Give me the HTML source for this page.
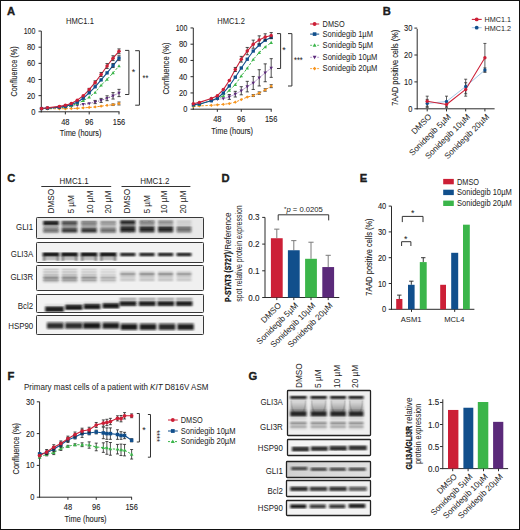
<!DOCTYPE html><html><head><meta charset="utf-8"><style>html,body{margin:0;padding:0;background:#fff;}svg{display:block;}text{font-family:"Liberation Sans", sans-serif;fill:#222222;}text.h{stroke:#222222;stroke-width:0.1px;}</style></head><body>
<svg width="520" height="530" viewBox="0 0 520 530">
<defs><filter id="b0" filterUnits="userSpaceOnUse" x="0" y="0" width="520" height="530"><feGaussianBlur stdDeviation="0.9 0.3"/></filter><filter id="b1" filterUnits="userSpaceOnUse" x="0" y="0" width="520" height="530"><feGaussianBlur stdDeviation="0.7"/></filter><filter id="b2" filterUnits="userSpaceOnUse" x="0" y="0" width="520" height="530"><feGaussianBlur stdDeviation="1.1"/></filter></defs>
<rect x="0" y="0" width="520" height="530" fill="#fff"/>
<text x="7" y="14.9" font-size="11.2" font-weight="bold" fill="#111" stroke="#111" stroke-width="0.35">A</text>
<text x="382.8" y="14.9" font-size="11.2" font-weight="bold" fill="#111" stroke="#111" stroke-width="0.35">B</text>
<text x="7.2" y="182" font-size="11.2" font-weight="bold" fill="#111" stroke="#111" stroke-width="0.35">C</text>
<text x="221.6" y="182" font-size="11.2" font-weight="bold" fill="#111" stroke="#111" stroke-width="0.35">D</text>
<text x="359.8" y="182.4" font-size="11.2" font-weight="bold" fill="#111" stroke="#111" stroke-width="0.35">E</text>
<text x="7.5" y="379.5" font-size="11.2" font-weight="bold" fill="#111" stroke="#111" stroke-width="0.35">F</text>
<text x="248.4" y="379.7" font-size="11.2" font-weight="bold" fill="#111" stroke="#111" stroke-width="0.35">G</text>
<line x1="41.3" y1="31.05" x2="41.3" y2="112.3" stroke="#2b2b2b" stroke-width="1"/>
<line x1="40.8" y1="111.8" x2="119.5" y2="111.8" stroke="#2b2b2b" stroke-width="1"/>
<line x1="38.5" y1="111.8" x2="41.3" y2="111.8" stroke="#2b2b2b" stroke-width="1"/>
<text class="h" x="35.3" y="114.8" font-size="8.5" text-anchor="end" textLength="4.16" lengthAdjust="spacingAndGlyphs">0</text>
<line x1="38.5" y1="95.65" x2="41.3" y2="95.65" stroke="#2b2b2b" stroke-width="1"/>
<text class="h" x="35.3" y="98.65" font-size="8.5" text-anchor="end" textLength="8.32" lengthAdjust="spacingAndGlyphs">20</text>
<line x1="38.5" y1="79.5" x2="41.3" y2="79.5" stroke="#2b2b2b" stroke-width="1"/>
<text class="h" x="35.3" y="82.5" font-size="8.5" text-anchor="end" textLength="8.32" lengthAdjust="spacingAndGlyphs">40</text>
<line x1="38.5" y1="63.35" x2="41.3" y2="63.35" stroke="#2b2b2b" stroke-width="1"/>
<text class="h" x="35.3" y="66.35" font-size="8.5" text-anchor="end" textLength="8.32" lengthAdjust="spacingAndGlyphs">60</text>
<line x1="38.5" y1="47.2" x2="41.3" y2="47.2" stroke="#2b2b2b" stroke-width="1"/>
<text class="h" x="35.3" y="50.2" font-size="8.5" text-anchor="end" textLength="8.32" lengthAdjust="spacingAndGlyphs">80</text>
<line x1="38.5" y1="31.05" x2="41.3" y2="31.05" stroke="#2b2b2b" stroke-width="1"/>
<text class="h" x="35.3" y="34.05" font-size="8.5" text-anchor="end" textLength="11.63" lengthAdjust="spacingAndGlyphs">100</text>
<line x1="65.35" y1="111.8" x2="65.35" y2="114.4" stroke="#2b2b2b" stroke-width="1"/>
<text class="h" x="65.35" y="124.5" font-size="8.5" text-anchor="middle" textLength="8.32" lengthAdjust="spacingAndGlyphs">48</text>
<line x1="89.19" y1="111.8" x2="89.19" y2="114.4" stroke="#2b2b2b" stroke-width="1"/>
<text class="h" x="89.19" y="124.5" font-size="8.5" text-anchor="middle" textLength="8.32" lengthAdjust="spacingAndGlyphs">96</text>
<line x1="119" y1="111.8" x2="119" y2="114.4" stroke="#2b2b2b" stroke-width="1"/>
<text class="h" x="119" y="124.5" font-size="8.5" text-anchor="middle" textLength="12.48" lengthAdjust="spacingAndGlyphs">156</text>
<text class="h" x="80.6" y="136.4" font-size="9.2" text-anchor="middle" textLength="41.5" lengthAdjust="spacingAndGlyphs">Time (hours)</text>
<text class="h" x="17" y="71.42" font-size="8.8" text-anchor="middle" textLength="50" lengthAdjust="spacingAndGlyphs" transform="rotate(-90 17 71.42)">Confluence (%)</text>
<text x="66" y="23.5" font-size="8.4" textLength="27.9" lengthAdjust="spacingAndGlyphs">HMC1.1</text>
<polyline points="41.5,108.89 47.46,108.81 59.38,108.73 65.35,108.73 71.31,108.49 77.27,108.33 83.23,107.84 89.19,107.44 95.15,106.95 101.12,106.15 107.08,105.34 113.04,104.69 119,103.48" fill="none" stroke="#f7941d" stroke-width="1" stroke-dasharray="2.4,1.6" stroke-linejoin="round"/>
<polyline points="41.5,108.57 47.46,108.41 59.38,107.76 65.35,107.2 71.31,106.31 77.27,105.18 83.23,104.37 89.19,103.56 95.15,102.03 101.12,100.41 107.08,98.23 113.04,95.81 119,92.99" fill="none" stroke="#5b2a7a" stroke-width="1" stroke-dasharray="0.9,1.4" stroke-linejoin="round"/>
<polyline points="41.5,108.57 47.46,108.33 59.38,107.44 65.35,106.87 71.31,105.74 77.27,103.48 83.23,100.74 89.19,97.1 95.15,92.5 101.12,85.23 107.08,79.42 113.04,72.88 119,66.01" fill="none" stroke="#3bb54a" stroke-width="1" stroke-dasharray="2.4,1.6" stroke-linejoin="round"/>
<polyline points="41.5,108.57 47.46,108.17 59.38,107.12 65.35,106.23 71.31,104.61 77.27,102.19 83.23,98.23 89.19,92.82 95.15,86.77 101.12,79.9 107.08,72.88 113.04,65.53 119,58.18" fill="none" stroke="#114f8c" stroke-width="1.1" stroke-linejoin="round"/>
<polyline points="41.5,108.49 47.46,107.76 59.38,106.39 65.35,105.18 71.31,103.56 77.27,100.17 83.23,95.81 89.19,89.59 95.15,82.41 101.12,74.49 107.08,66.01 113.04,58.18 119,51.32" fill="none" stroke="#cc1f36" stroke-width="1.1" stroke-linejoin="round"/>
<line x1="113.04" y1="103.89" x2="113.04" y2="105.5" stroke="#222" stroke-width="0.8"/>
<line x1="111.44" y1="103.89" x2="114.64" y2="103.89" stroke="#222" stroke-width="0.8"/>
<line x1="111.44" y1="105.5" x2="114.64" y2="105.5" stroke="#222" stroke-width="0.8"/>
<line x1="119" y1="102.03" x2="119" y2="104.94" stroke="#222" stroke-width="0.8"/>
<line x1="117.4" y1="102.03" x2="120.6" y2="102.03" stroke="#222" stroke-width="0.8"/>
<line x1="117.4" y1="104.94" x2="120.6" y2="104.94" stroke="#222" stroke-width="0.8"/>
<polygon points="41.5,107.24 43.15,108.89 41.5,110.54 39.85,108.89" fill="#f7941d"/>
<polygon points="47.46,107.16 49.11,108.81 47.46,110.46 45.81,108.81" fill="#f7941d"/>
<polygon points="59.38,107.08 61.03,108.73 59.38,110.38 57.73,108.73" fill="#f7941d"/>
<polygon points="65.35,107.08 67,108.73 65.35,110.38 63.7,108.73" fill="#f7941d"/>
<polygon points="71.31,106.84 72.96,108.49 71.31,110.14 69.66,108.49" fill="#f7941d"/>
<polygon points="77.27,106.68 78.92,108.33 77.27,109.98 75.62,108.33" fill="#f7941d"/>
<polygon points="83.23,106.19 84.88,107.84 83.23,109.49 81.58,107.84" fill="#f7941d"/>
<polygon points="89.19,105.79 90.84,107.44 89.19,109.09 87.54,107.44" fill="#f7941d"/>
<polygon points="95.15,105.3 96.8,106.95 95.15,108.61 93.5,106.95" fill="#f7941d"/>
<polygon points="101.12,104.5 102.77,106.15 101.12,107.8 99.47,106.15" fill="#f7941d"/>
<polygon points="107.08,103.69 108.73,105.34 107.08,106.99 105.43,105.34" fill="#f7941d"/>
<polygon points="113.04,103.04 114.69,104.69 113.04,106.34 111.39,104.69" fill="#f7941d"/>
<polygon points="119,101.83 120.65,103.48 119,105.13 117.35,103.48" fill="#f7941d"/>
<line x1="95.15" y1="100.41" x2="95.15" y2="103.64" stroke="#222" stroke-width="0.8"/>
<line x1="93.55" y1="100.41" x2="96.75" y2="100.41" stroke="#222" stroke-width="0.8"/>
<line x1="93.55" y1="103.64" x2="96.75" y2="103.64" stroke="#222" stroke-width="0.8"/>
<line x1="101.12" y1="98.4" x2="101.12" y2="102.43" stroke="#222" stroke-width="0.8"/>
<line x1="99.52" y1="98.4" x2="102.72" y2="98.4" stroke="#222" stroke-width="0.8"/>
<line x1="99.52" y1="102.43" x2="102.72" y2="102.43" stroke="#222" stroke-width="0.8"/>
<line x1="107.08" y1="95.81" x2="107.08" y2="100.66" stroke="#222" stroke-width="0.8"/>
<line x1="105.48" y1="95.81" x2="108.68" y2="95.81" stroke="#222" stroke-width="0.8"/>
<line x1="105.48" y1="100.66" x2="108.68" y2="100.66" stroke="#222" stroke-width="0.8"/>
<line x1="113.04" y1="92.58" x2="113.04" y2="99.04" stroke="#222" stroke-width="0.8"/>
<line x1="111.44" y1="92.58" x2="114.64" y2="92.58" stroke="#222" stroke-width="0.8"/>
<line x1="111.44" y1="99.04" x2="114.64" y2="99.04" stroke="#222" stroke-width="0.8"/>
<line x1="119" y1="89.35" x2="119" y2="96.62" stroke="#222" stroke-width="0.8"/>
<line x1="117.4" y1="89.35" x2="120.6" y2="89.35" stroke="#222" stroke-width="0.8"/>
<line x1="117.4" y1="96.62" x2="120.6" y2="96.62" stroke="#222" stroke-width="0.8"/>
<polygon points="41.5,110.38 39.77,107.25 43.23,107.25" fill="#5b2a7a"/>
<polygon points="47.46,110.22 45.73,107.09 49.19,107.09" fill="#5b2a7a"/>
<polygon points="59.38,109.58 57.65,106.44 61.12,106.44" fill="#5b2a7a"/>
<polygon points="65.35,109.01 63.61,105.88 67.08,105.88" fill="#5b2a7a"/>
<polygon points="71.31,108.12 69.58,104.99 73.04,104.99" fill="#5b2a7a"/>
<polygon points="77.27,106.99 75.54,103.86 79,103.86" fill="#5b2a7a"/>
<polygon points="83.23,106.19 81.5,103.05 84.96,103.05" fill="#5b2a7a"/>
<polygon points="89.19,105.38 87.46,102.24 90.93,102.24" fill="#5b2a7a"/>
<polygon points="95.15,103.84 93.42,100.71 96.89,100.71" fill="#5b2a7a"/>
<polygon points="101.12,102.23 99.38,99.09 102.85,99.09" fill="#5b2a7a"/>
<polygon points="107.08,100.05 105.35,96.91 108.81,96.91" fill="#5b2a7a"/>
<polygon points="113.04,97.63 111.31,94.49 114.77,94.49" fill="#5b2a7a"/>
<polygon points="119,94.8 117.27,91.67 120.73,91.67" fill="#5b2a7a"/>
<polygon points="41.5,106.75 39.77,109.89 43.23,109.89" fill="#3bb54a"/>
<polygon points="47.46,106.51 45.73,109.65 49.19,109.65" fill="#3bb54a"/>
<polygon points="59.38,105.62 57.65,108.76 61.12,108.76" fill="#3bb54a"/>
<polygon points="65.35,105.06 63.61,108.19 67.08,108.19" fill="#3bb54a"/>
<polygon points="71.31,103.93 69.58,107.06 73.04,107.06" fill="#3bb54a"/>
<polygon points="77.27,101.67 75.54,104.8 79,104.8" fill="#3bb54a"/>
<polygon points="83.23,98.92 81.5,102.06 84.96,102.06" fill="#3bb54a"/>
<polygon points="89.19,95.29 87.46,98.42 90.93,98.42" fill="#3bb54a"/>
<polygon points="95.15,90.69 93.42,93.82 96.89,93.82" fill="#3bb54a"/>
<polygon points="101.12,83.42 99.38,86.55 102.85,86.55" fill="#3bb54a"/>
<polygon points="107.08,77.6 105.35,80.74 108.81,80.74" fill="#3bb54a"/>
<polygon points="113.04,71.06 111.31,74.2 114.77,74.2" fill="#3bb54a"/>
<polygon points="119,64.2 117.27,67.33 120.73,67.33" fill="#3bb54a"/>
<line x1="113.04" y1="63.51" x2="113.04" y2="67.55" stroke="#222" stroke-width="0.8"/>
<line x1="111.44" y1="63.51" x2="114.64" y2="63.51" stroke="#222" stroke-width="0.8"/>
<line x1="111.44" y1="67.55" x2="114.64" y2="67.55" stroke="#222" stroke-width="0.8"/>
<line x1="119" y1="55.76" x2="119" y2="60.6" stroke="#222" stroke-width="0.8"/>
<line x1="117.4" y1="55.76" x2="120.6" y2="55.76" stroke="#222" stroke-width="0.8"/>
<line x1="117.4" y1="60.6" x2="120.6" y2="60.6" stroke="#222" stroke-width="0.8"/>
<rect x="39.85" y="106.92" width="3.3" height="3.3" fill="#114f8c"/>
<rect x="45.81" y="106.52" width="3.3" height="3.3" fill="#114f8c"/>
<rect x="57.73" y="105.47" width="3.3" height="3.3" fill="#114f8c"/>
<rect x="63.7" y="104.58" width="3.3" height="3.3" fill="#114f8c"/>
<rect x="69.66" y="102.96" width="3.3" height="3.3" fill="#114f8c"/>
<rect x="75.62" y="100.54" width="3.3" height="3.3" fill="#114f8c"/>
<rect x="81.58" y="96.58" width="3.3" height="3.3" fill="#114f8c"/>
<rect x="87.54" y="91.17" width="3.3" height="3.3" fill="#114f8c"/>
<rect x="93.5" y="85.12" width="3.3" height="3.3" fill="#114f8c"/>
<rect x="99.47" y="78.25" width="3.3" height="3.3" fill="#114f8c"/>
<rect x="105.43" y="71.23" width="3.3" height="3.3" fill="#114f8c"/>
<rect x="111.39" y="63.88" width="3.3" height="3.3" fill="#114f8c"/>
<rect x="117.35" y="56.53" width="3.3" height="3.3" fill="#114f8c"/>
<line x1="89.19" y1="88.38" x2="89.19" y2="90.81" stroke="#222" stroke-width="0.8"/>
<line x1="87.59" y1="88.38" x2="90.79" y2="88.38" stroke="#222" stroke-width="0.8"/>
<line x1="87.59" y1="90.81" x2="90.79" y2="90.81" stroke="#222" stroke-width="0.8"/>
<line x1="95.15" y1="80.79" x2="95.15" y2="84.02" stroke="#222" stroke-width="0.8"/>
<line x1="93.55" y1="80.79" x2="96.75" y2="80.79" stroke="#222" stroke-width="0.8"/>
<line x1="93.55" y1="84.02" x2="96.75" y2="84.02" stroke="#222" stroke-width="0.8"/>
<line x1="101.12" y1="72.47" x2="101.12" y2="76.51" stroke="#222" stroke-width="0.8"/>
<line x1="99.52" y1="72.47" x2="102.72" y2="72.47" stroke="#222" stroke-width="0.8"/>
<line x1="99.52" y1="76.51" x2="102.72" y2="76.51" stroke="#222" stroke-width="0.8"/>
<line x1="107.08" y1="63.59" x2="107.08" y2="68.44" stroke="#222" stroke-width="0.8"/>
<line x1="105.48" y1="63.59" x2="108.68" y2="63.59" stroke="#222" stroke-width="0.8"/>
<line x1="105.48" y1="68.44" x2="108.68" y2="68.44" stroke="#222" stroke-width="0.8"/>
<line x1="113.04" y1="55.76" x2="113.04" y2="60.6" stroke="#222" stroke-width="0.8"/>
<line x1="111.44" y1="55.76" x2="114.64" y2="55.76" stroke="#222" stroke-width="0.8"/>
<line x1="111.44" y1="60.6" x2="114.64" y2="60.6" stroke="#222" stroke-width="0.8"/>
<line x1="119" y1="48.9" x2="119" y2="53.74" stroke="#222" stroke-width="0.8"/>
<line x1="117.4" y1="48.9" x2="120.6" y2="48.9" stroke="#222" stroke-width="0.8"/>
<line x1="117.4" y1="53.74" x2="120.6" y2="53.74" stroke="#222" stroke-width="0.8"/>
<circle cx="41.5" cy="108.49" r="1.75" fill="#cc1f36"/>
<circle cx="47.46" cy="107.76" r="1.75" fill="#cc1f36"/>
<circle cx="59.38" cy="106.39" r="1.75" fill="#cc1f36"/>
<circle cx="65.35" cy="105.18" r="1.75" fill="#cc1f36"/>
<circle cx="71.31" cy="103.56" r="1.75" fill="#cc1f36"/>
<circle cx="77.27" cy="100.17" r="1.75" fill="#cc1f36"/>
<circle cx="83.23" cy="95.81" r="1.75" fill="#cc1f36"/>
<circle cx="89.19" cy="89.59" r="1.75" fill="#cc1f36"/>
<circle cx="95.15" cy="82.41" r="1.75" fill="#cc1f36"/>
<circle cx="101.12" cy="74.49" r="1.75" fill="#cc1f36"/>
<circle cx="107.08" cy="66.01" r="1.75" fill="#cc1f36"/>
<circle cx="113.04" cy="58.18" r="1.75" fill="#cc1f36"/>
<circle cx="119" cy="51.32" r="1.75" fill="#cc1f36"/>
<polyline points="125.1,50.4 128.9,50.4 128.9,94.5 125.1,94.5" fill="none" stroke="#333" stroke-width="1"/>
<polyline points="135.2,50.7 139.4,50.7 139.4,105.2 135.2,105.2" fill="none" stroke="#333" stroke-width="1"/>
<text x="133.5" y="75.05" font-size="9" text-anchor="middle">*</text>
<text x="145.4" y="81.05" font-size="9" text-anchor="middle" textLength="5.8" lengthAdjust="spacingAndGlyphs">**</text>
<line x1="193.3" y1="27.95" x2="193.3" y2="109.7" stroke="#2b2b2b" stroke-width="1"/>
<line x1="192.8" y1="109.2" x2="271.7" y2="109.2" stroke="#2b2b2b" stroke-width="1"/>
<line x1="190.5" y1="109.2" x2="193.3" y2="109.2" stroke="#2b2b2b" stroke-width="1"/>
<text class="h" x="187.3" y="112.2" font-size="8.5" text-anchor="end" textLength="4.16" lengthAdjust="spacingAndGlyphs">0</text>
<line x1="190.5" y1="92.95" x2="193.3" y2="92.95" stroke="#2b2b2b" stroke-width="1"/>
<text class="h" x="187.3" y="95.95" font-size="8.5" text-anchor="end" textLength="8.32" lengthAdjust="spacingAndGlyphs">20</text>
<line x1="190.5" y1="76.7" x2="193.3" y2="76.7" stroke="#2b2b2b" stroke-width="1"/>
<text class="h" x="187.3" y="79.7" font-size="8.5" text-anchor="end" textLength="8.32" lengthAdjust="spacingAndGlyphs">40</text>
<line x1="190.5" y1="60.45" x2="193.3" y2="60.45" stroke="#2b2b2b" stroke-width="1"/>
<text class="h" x="187.3" y="63.45" font-size="8.5" text-anchor="end" textLength="8.32" lengthAdjust="spacingAndGlyphs">60</text>
<line x1="190.5" y1="44.2" x2="193.3" y2="44.2" stroke="#2b2b2b" stroke-width="1"/>
<text class="h" x="187.3" y="47.2" font-size="8.5" text-anchor="end" textLength="8.32" lengthAdjust="spacingAndGlyphs">80</text>
<line x1="190.5" y1="27.95" x2="193.3" y2="27.95" stroke="#2b2b2b" stroke-width="1"/>
<text class="h" x="187.3" y="30.95" font-size="8.5" text-anchor="end" textLength="11.63" lengthAdjust="spacingAndGlyphs">100</text>
<line x1="217.34" y1="109.2" x2="217.34" y2="111.8" stroke="#2b2b2b" stroke-width="1"/>
<text class="h" x="217.34" y="121.9" font-size="8.5" text-anchor="middle" textLength="8.32" lengthAdjust="spacingAndGlyphs">48</text>
<line x1="241.28" y1="109.2" x2="241.28" y2="111.8" stroke="#2b2b2b" stroke-width="1"/>
<text class="h" x="241.28" y="121.9" font-size="8.5" text-anchor="middle" textLength="8.32" lengthAdjust="spacingAndGlyphs">96</text>
<line x1="271.2" y1="109.2" x2="271.2" y2="111.8" stroke="#2b2b2b" stroke-width="1"/>
<text class="h" x="271.2" y="121.9" font-size="8.5" text-anchor="middle" textLength="12.48" lengthAdjust="spacingAndGlyphs">156</text>
<text class="h" x="232.2" y="134.3" font-size="9.2" text-anchor="middle" textLength="41.7" lengthAdjust="spacingAndGlyphs">Time (hours)</text>
<text class="h" x="168.9" y="68.58" font-size="8.8" text-anchor="middle" textLength="52" lengthAdjust="spacingAndGlyphs" transform="rotate(-90 168.9 68.58)">Confluence (%)</text>
<text x="217.3" y="23.8" font-size="8.4" textLength="27.6" lengthAdjust="spacingAndGlyphs">HMC1.2</text>
<polyline points="193.4,106.44 199.38,105.95 211.35,105.3 217.34,104.81 223.32,104.33 229.31,103.59 235.29,102.21 241.28,99.53 247.26,97.09 253.24,95.55 259.23,93.11 265.21,89.94 271.2,86.21" fill="none" stroke="#f7941d" stroke-width="1" stroke-dasharray="2.4,1.6" stroke-linejoin="round"/>
<polyline points="193.4,105.14 199.38,104.33 211.35,100.75 217.34,99.29 223.32,98.64 229.31,96.93 235.29,94.17 241.28,90.76 247.26,86.61 253.24,82.96 259.23,77.84 265.21,72.8 271.2,68.01" fill="none" stroke="#b08cc8" stroke-width="0.7" stroke-linejoin="round"/>
<polyline points="193.4,105.14 199.38,104.65 211.35,100.26 217.34,98.64 223.32,95.79 229.31,90.43 235.29,84.58 241.28,75.97 247.26,68.25 253.24,59.48 259.23,52.57 265.21,47.04 271.2,42.58" fill="none" stroke="#3bb54a" stroke-width="1" stroke-dasharray="2.4,1.6" stroke-linejoin="round"/>
<polyline points="193.4,104.73 199.38,103.92 211.35,100.75 217.34,98.23 223.32,93.03 229.31,85.96 235.29,77.19 241.28,68.01 247.26,59.23 253.24,51.03 259.23,45.01 265.21,40.22 271.2,37.54" fill="none" stroke="#114f8c" stroke-width="1.1" stroke-linejoin="round"/>
<polyline points="193.4,103.84 199.38,102.38 211.35,98.48 217.34,95.71 223.32,89.62 229.31,80.44 235.29,69.47 241.28,59.23 247.26,51.11 253.24,44.2 259.23,39.89 265.21,37.05 271.2,35.43" fill="none" stroke="#cc1f36" stroke-width="1.1" stroke-linejoin="round"/>
<line x1="253.24" y1="94.58" x2="253.24" y2="96.52" stroke="#222" stroke-width="0.8"/>
<line x1="251.64" y1="94.58" x2="254.84" y2="94.58" stroke="#222" stroke-width="0.8"/>
<line x1="251.64" y1="96.52" x2="254.84" y2="96.52" stroke="#222" stroke-width="0.8"/>
<line x1="259.23" y1="91.89" x2="259.23" y2="94.33" stroke="#222" stroke-width="0.8"/>
<line x1="257.63" y1="91.89" x2="260.83" y2="91.89" stroke="#222" stroke-width="0.8"/>
<line x1="257.63" y1="94.33" x2="260.83" y2="94.33" stroke="#222" stroke-width="0.8"/>
<line x1="265.21" y1="88.73" x2="265.21" y2="91.16" stroke="#222" stroke-width="0.8"/>
<line x1="263.61" y1="88.73" x2="266.81" y2="88.73" stroke="#222" stroke-width="0.8"/>
<line x1="263.61" y1="91.16" x2="266.81" y2="91.16" stroke="#222" stroke-width="0.8"/>
<line x1="271.2" y1="84.74" x2="271.2" y2="87.67" stroke="#222" stroke-width="0.8"/>
<line x1="269.6" y1="84.74" x2="272.8" y2="84.74" stroke="#222" stroke-width="0.8"/>
<line x1="269.6" y1="87.67" x2="272.8" y2="87.67" stroke="#222" stroke-width="0.8"/>
<polygon points="193.4,104.79 195.05,106.44 193.4,108.09 191.75,106.44" fill="#f7941d"/>
<polygon points="199.38,104.3 201.03,105.95 199.38,107.6 197.73,105.95" fill="#f7941d"/>
<polygon points="211.35,103.65 213,105.3 211.35,106.95 209.7,105.3" fill="#f7941d"/>
<polygon points="217.34,103.16 218.99,104.81 217.34,106.46 215.69,104.81" fill="#f7941d"/>
<polygon points="223.32,102.67 224.97,104.33 223.32,105.98 221.67,104.33" fill="#f7941d"/>
<polygon points="229.31,101.94 230.96,103.59 229.31,105.24 227.66,103.59" fill="#f7941d"/>
<polygon points="235.29,100.56 236.94,102.21 235.29,103.86 233.64,102.21" fill="#f7941d"/>
<polygon points="241.28,97.88 242.93,99.53 241.28,101.18 239.63,99.53" fill="#f7941d"/>
<polygon points="247.26,95.44 248.91,97.09 247.26,98.74 245.61,97.09" fill="#f7941d"/>
<polygon points="253.24,93.9 254.89,95.55 253.24,97.2 251.59,95.55" fill="#f7941d"/>
<polygon points="259.23,91.46 260.88,93.11 259.23,94.76 257.58,93.11" fill="#f7941d"/>
<polygon points="265.21,88.29 266.86,89.94 265.21,91.59 263.56,89.94" fill="#f7941d"/>
<polygon points="271.2,84.56 272.85,86.21 271.2,87.86 269.55,86.21" fill="#f7941d"/>
<line x1="229.31" y1="94.49" x2="229.31" y2="99.37" stroke="#222" stroke-width="0.8"/>
<line x1="227.71" y1="94.49" x2="230.91" y2="94.49" stroke="#222" stroke-width="0.8"/>
<line x1="227.71" y1="99.37" x2="230.91" y2="99.37" stroke="#222" stroke-width="0.8"/>
<line x1="235.29" y1="91.33" x2="235.29" y2="97.01" stroke="#222" stroke-width="0.8"/>
<line x1="233.69" y1="91.33" x2="236.89" y2="91.33" stroke="#222" stroke-width="0.8"/>
<line x1="233.69" y1="97.01" x2="236.89" y2="97.01" stroke="#222" stroke-width="0.8"/>
<line x1="241.28" y1="86.69" x2="241.28" y2="94.82" stroke="#222" stroke-width="0.8"/>
<line x1="239.68" y1="86.69" x2="242.88" y2="86.69" stroke="#222" stroke-width="0.8"/>
<line x1="239.68" y1="94.82" x2="242.88" y2="94.82" stroke="#222" stroke-width="0.8"/>
<line x1="247.26" y1="81.33" x2="247.26" y2="91.89" stroke="#222" stroke-width="0.8"/>
<line x1="245.66" y1="81.33" x2="248.86" y2="81.33" stroke="#222" stroke-width="0.8"/>
<line x1="245.66" y1="91.89" x2="248.86" y2="91.89" stroke="#222" stroke-width="0.8"/>
<line x1="253.24" y1="76.46" x2="253.24" y2="89.46" stroke="#222" stroke-width="0.8"/>
<line x1="251.64" y1="76.46" x2="254.84" y2="76.46" stroke="#222" stroke-width="0.8"/>
<line x1="251.64" y1="89.46" x2="254.84" y2="89.46" stroke="#222" stroke-width="0.8"/>
<line x1="259.23" y1="69.71" x2="259.23" y2="85.96" stroke="#222" stroke-width="0.8"/>
<line x1="257.63" y1="69.71" x2="260.83" y2="69.71" stroke="#222" stroke-width="0.8"/>
<line x1="257.63" y1="85.96" x2="260.83" y2="85.96" stroke="#222" stroke-width="0.8"/>
<line x1="265.21" y1="63.86" x2="265.21" y2="81.74" stroke="#222" stroke-width="0.8"/>
<line x1="263.61" y1="63.86" x2="266.81" y2="63.86" stroke="#222" stroke-width="0.8"/>
<line x1="263.61" y1="81.74" x2="266.81" y2="81.74" stroke="#222" stroke-width="0.8"/>
<line x1="271.2" y1="58.66" x2="271.2" y2="77.35" stroke="#222" stroke-width="0.8"/>
<line x1="269.6" y1="58.66" x2="272.8" y2="58.66" stroke="#222" stroke-width="0.8"/>
<line x1="269.6" y1="77.35" x2="272.8" y2="77.35" stroke="#222" stroke-width="0.8"/>
<polygon points="193.4,106.95 191.67,103.82 195.13,103.82" fill="#5b2a7a"/>
<polygon points="199.38,106.14 197.65,103.01 201.12,103.01" fill="#5b2a7a"/>
<polygon points="211.35,102.56 209.62,99.43 213.09,99.43" fill="#5b2a7a"/>
<polygon points="217.34,101.1 215.61,97.97 219.07,97.97" fill="#5b2a7a"/>
<polygon points="223.32,100.45 221.59,97.32 225.05,97.32" fill="#5b2a7a"/>
<polygon points="229.31,98.75 227.57,95.61 231.04,95.61" fill="#5b2a7a"/>
<polygon points="235.29,95.98 233.56,92.85 237.02,92.85" fill="#5b2a7a"/>
<polygon points="241.28,92.57 239.54,89.44 243.01,89.44" fill="#5b2a7a"/>
<polygon points="247.26,88.43 245.53,85.29 248.99,85.29" fill="#5b2a7a"/>
<polygon points="253.24,84.77 251.51,81.64 254.98,81.64" fill="#5b2a7a"/>
<polygon points="259.23,79.65 257.5,76.52 260.96,76.52" fill="#5b2a7a"/>
<polygon points="265.21,74.62 263.48,71.48 266.95,71.48" fill="#5b2a7a"/>
<polygon points="271.2,69.82 269.46,66.69 272.93,66.69" fill="#5b2a7a"/>
<polygon points="193.4,103.32 191.67,106.46 195.13,106.46" fill="#3bb54a"/>
<polygon points="199.38,102.84 197.65,105.97 201.12,105.97" fill="#3bb54a"/>
<polygon points="211.35,98.45 209.62,101.58 213.09,101.58" fill="#3bb54a"/>
<polygon points="217.34,96.82 215.61,99.96 219.07,99.96" fill="#3bb54a"/>
<polygon points="223.32,93.98 221.59,97.11 225.05,97.11" fill="#3bb54a"/>
<polygon points="229.31,88.62 227.57,91.75 231.04,91.75" fill="#3bb54a"/>
<polygon points="235.29,82.77 233.56,85.9 237.02,85.9" fill="#3bb54a"/>
<polygon points="241.28,74.15 239.54,77.29 243.01,77.29" fill="#3bb54a"/>
<polygon points="247.26,66.44 245.53,69.57 248.99,69.57" fill="#3bb54a"/>
<polygon points="253.24,57.66 251.51,60.8 254.98,60.8" fill="#3bb54a"/>
<polygon points="259.23,50.75 257.5,53.89 260.96,53.89" fill="#3bb54a"/>
<polygon points="265.21,45.23 263.48,48.36 266.95,48.36" fill="#3bb54a"/>
<polygon points="271.2,40.76 269.46,43.9 272.93,43.9" fill="#3bb54a"/>
<rect x="191.75" y="103.08" width="3.3" height="3.3" fill="#114f8c"/>
<rect x="197.73" y="102.27" width="3.3" height="3.3" fill="#114f8c"/>
<rect x="209.7" y="99.1" width="3.3" height="3.3" fill="#114f8c"/>
<rect x="215.69" y="96.58" width="3.3" height="3.3" fill="#114f8c"/>
<rect x="221.67" y="91.38" width="3.3" height="3.3" fill="#114f8c"/>
<rect x="227.66" y="84.31" width="3.3" height="3.3" fill="#114f8c"/>
<rect x="233.64" y="75.54" width="3.3" height="3.3" fill="#114f8c"/>
<rect x="239.63" y="66.36" width="3.3" height="3.3" fill="#114f8c"/>
<rect x="245.61" y="57.58" width="3.3" height="3.3" fill="#114f8c"/>
<rect x="251.59" y="49.38" width="3.3" height="3.3" fill="#114f8c"/>
<rect x="257.58" y="43.36" width="3.3" height="3.3" fill="#114f8c"/>
<rect x="263.56" y="38.57" width="3.3" height="3.3" fill="#114f8c"/>
<rect x="269.55" y="35.89" width="3.3" height="3.3" fill="#114f8c"/>
<line x1="235.29" y1="67.44" x2="235.29" y2="71.5" stroke="#222" stroke-width="0.8"/>
<line x1="233.69" y1="67.44" x2="236.89" y2="67.44" stroke="#222" stroke-width="0.8"/>
<line x1="233.69" y1="71.5" x2="236.89" y2="71.5" stroke="#222" stroke-width="0.8"/>
<line x1="241.28" y1="56.39" x2="241.28" y2="62.08" stroke="#222" stroke-width="0.8"/>
<line x1="239.68" y1="56.39" x2="242.88" y2="56.39" stroke="#222" stroke-width="0.8"/>
<line x1="239.68" y1="62.08" x2="242.88" y2="62.08" stroke="#222" stroke-width="0.8"/>
<line x1="247.26" y1="47.45" x2="247.26" y2="54.76" stroke="#222" stroke-width="0.8"/>
<line x1="245.66" y1="47.45" x2="248.86" y2="47.45" stroke="#222" stroke-width="0.8"/>
<line x1="245.66" y1="54.76" x2="248.86" y2="54.76" stroke="#222" stroke-width="0.8"/>
<line x1="253.24" y1="40.14" x2="253.24" y2="48.26" stroke="#222" stroke-width="0.8"/>
<line x1="251.64" y1="40.14" x2="254.84" y2="40.14" stroke="#222" stroke-width="0.8"/>
<line x1="251.64" y1="48.26" x2="254.84" y2="48.26" stroke="#222" stroke-width="0.8"/>
<line x1="259.23" y1="35.83" x2="259.23" y2="43.96" stroke="#222" stroke-width="0.8"/>
<line x1="257.63" y1="35.83" x2="260.83" y2="35.83" stroke="#222" stroke-width="0.8"/>
<line x1="257.63" y1="43.96" x2="260.83" y2="43.96" stroke="#222" stroke-width="0.8"/>
<line x1="265.21" y1="33.8" x2="265.21" y2="40.3" stroke="#222" stroke-width="0.8"/>
<line x1="263.61" y1="33.8" x2="266.81" y2="33.8" stroke="#222" stroke-width="0.8"/>
<line x1="263.61" y1="40.3" x2="266.81" y2="40.3" stroke="#222" stroke-width="0.8"/>
<line x1="271.2" y1="32.58" x2="271.2" y2="38.27" stroke="#222" stroke-width="0.8"/>
<line x1="269.6" y1="32.58" x2="272.8" y2="32.58" stroke="#222" stroke-width="0.8"/>
<line x1="269.6" y1="38.27" x2="272.8" y2="38.27" stroke="#222" stroke-width="0.8"/>
<circle cx="193.4" cy="103.84" r="1.75" fill="#cc1f36"/>
<circle cx="199.38" cy="102.38" r="1.75" fill="#cc1f36"/>
<circle cx="211.35" cy="98.48" r="1.75" fill="#cc1f36"/>
<circle cx="217.34" cy="95.71" r="1.75" fill="#cc1f36"/>
<circle cx="223.32" cy="89.62" r="1.75" fill="#cc1f36"/>
<circle cx="229.31" cy="80.44" r="1.75" fill="#cc1f36"/>
<circle cx="235.29" cy="69.47" r="1.75" fill="#cc1f36"/>
<circle cx="241.28" cy="59.23" r="1.75" fill="#cc1f36"/>
<circle cx="247.26" cy="51.11" r="1.75" fill="#cc1f36"/>
<circle cx="253.24" cy="44.2" r="1.75" fill="#cc1f36"/>
<circle cx="259.23" cy="39.89" r="1.75" fill="#cc1f36"/>
<circle cx="265.21" cy="37.05" r="1.75" fill="#cc1f36"/>
<circle cx="271.2" cy="35.43" r="1.75" fill="#cc1f36"/>
<polyline points="277,33.6 280.6,33.6 280.6,68.5 277,68.5" fill="none" stroke="#333" stroke-width="1"/>
<polyline points="288,33.6 291.9,33.6 291.9,86 288,86" fill="none" stroke="#333" stroke-width="1"/>
<text x="284" y="53.35" font-size="9" text-anchor="middle">*</text>
<text x="298.4" y="63.05" font-size="9" text-anchor="middle" textLength="8.8" lengthAdjust="spacingAndGlyphs">***</text>
<line x1="310.1" y1="24" x2="319.2" y2="24" stroke="#cc1f36" stroke-width="1"/>
<circle cx="314.6" cy="24" r="1.9" fill="#cc1f36"/>
<text x="322.6" y="26.85" font-size="8.5" textLength="22" lengthAdjust="spacingAndGlyphs">DMSO</text>
<line x1="310.1" y1="34.1" x2="319.2" y2="34.1" stroke="#114f8c" stroke-width="1"/>
<rect x="312.8" y="32.3" width="3.6" height="3.6" fill="#114f8c"/>
<text x="322.6" y="36.95" font-size="8.5" textLength="50.4" lengthAdjust="spacingAndGlyphs">Sonidegib 1µM</text>
<line x1="310.1" y1="45.3" x2="319.2" y2="45.3" stroke="#3bb54a" stroke-width="0.8" stroke-dasharray="2,1.5"/>
<polygon points="314.6,43.32 312.71,46.74 316.49,46.74" fill="#3bb54a"/>
<text x="322.6" y="48.15" font-size="8.5" textLength="50.5" lengthAdjust="spacingAndGlyphs">Sonidegib 5µM</text>
<line x1="310.1" y1="57.3" x2="319.2" y2="57.3" stroke="#b08cc8" stroke-width="0.8" stroke-dasharray="2,1.5"/>
<polygon points="314.6,59.28 312.71,55.86 316.49,55.86" fill="#5b2a7a"/>
<text x="322.6" y="60.15" font-size="8.5" textLength="54.7" lengthAdjust="spacingAndGlyphs">Sonidegib 10µM</text>
<line x1="310.1" y1="68.6" x2="319.2" y2="68.6" stroke="#f7941d" stroke-width="0.8" stroke-dasharray="2,1.5"/>
<polygon points="314.6,66.8 316.4,68.6 314.6,70.4 312.8,68.6" fill="#f7941d"/>
<text x="322.6" y="71.45" font-size="8.5" textLength="54.7" lengthAdjust="spacingAndGlyphs">Sonidegib 20µM</text>
<line x1="417.2" y1="28.9" x2="417.2" y2="109.3" stroke="#2b2b2b" stroke-width="1"/>
<line x1="416.7" y1="108.8" x2="494.6" y2="108.8" stroke="#2b2b2b" stroke-width="1"/>
<line x1="414.4" y1="108.8" x2="417.2" y2="108.8" stroke="#2b2b2b" stroke-width="1"/>
<text class="h" x="412.4" y="111.8" font-size="8.5" text-anchor="end" textLength="4.16" lengthAdjust="spacingAndGlyphs">0</text>
<line x1="414.4" y1="81.9" x2="417.2" y2="81.9" stroke="#2b2b2b" stroke-width="1"/>
<text class="h" x="412.4" y="84.9" font-size="8.5" text-anchor="end" textLength="8.32" lengthAdjust="spacingAndGlyphs">10</text>
<line x1="414.4" y1="55" x2="417.2" y2="55" stroke="#2b2b2b" stroke-width="1"/>
<text class="h" x="412.4" y="58" font-size="8.5" text-anchor="end" textLength="8.32" lengthAdjust="spacingAndGlyphs">20</text>
<line x1="414.4" y1="28.1" x2="417.2" y2="28.1" stroke="#2b2b2b" stroke-width="1"/>
<text class="h" x="412.4" y="31.1" font-size="8.5" text-anchor="end" textLength="8.32" lengthAdjust="spacingAndGlyphs">30</text>
<line x1="427.2" y1="108.8" x2="427.2" y2="111.4" stroke="#2b2b2b" stroke-width="1"/>
<line x1="446.5" y1="108.8" x2="446.5" y2="111.4" stroke="#2b2b2b" stroke-width="1"/>
<line x1="465.7" y1="108.8" x2="465.7" y2="111.4" stroke="#2b2b2b" stroke-width="1"/>
<line x1="484.9" y1="108.8" x2="484.9" y2="111.4" stroke="#2b2b2b" stroke-width="1"/>
<text class="h" x="397.8" y="67.8" font-size="8.8" text-anchor="middle" textLength="75.8" lengthAdjust="spacingAndGlyphs" transform="rotate(-90 397.8 67.8)">7AAD positive cells (%)</text>
<polyline points="427.2,103.42 446.5,101.54 465.7,86.47 484.9,70.06" fill="none" stroke="#8ab8e0" stroke-width="0.8" stroke-linejoin="round"/>
<polyline points="427.2,101.27 446.5,104.5 465.7,89.43 484.9,57.69" fill="none" stroke="#cc1f36" stroke-width="1.05" stroke-linejoin="round"/>
<line x1="427.2" y1="96.16" x2="427.2" y2="106.38" stroke="#333" stroke-width="0.8"/>
<line x1="425.7" y1="96.16" x2="428.7" y2="96.16" stroke="#333" stroke-width="0.8"/>
<line x1="425.7" y1="106.38" x2="428.7" y2="106.38" stroke="#333" stroke-width="0.8"/>
<line x1="446.5" y1="101.81" x2="446.5" y2="107.19" stroke="#333" stroke-width="0.8"/>
<line x1="445" y1="101.81" x2="448" y2="101.81" stroke="#333" stroke-width="0.8"/>
<line x1="445" y1="107.19" x2="448" y2="107.19" stroke="#333" stroke-width="0.8"/>
<line x1="465.7" y1="82.71" x2="465.7" y2="96.16" stroke="#333" stroke-width="0.8"/>
<line x1="464.2" y1="82.71" x2="467.2" y2="82.71" stroke="#333" stroke-width="0.8"/>
<line x1="464.2" y1="96.16" x2="467.2" y2="96.16" stroke="#333" stroke-width="0.8"/>
<line x1="484.9" y1="43.43" x2="484.9" y2="71.95" stroke="#333" stroke-width="0.8"/>
<line x1="483.4" y1="43.43" x2="486.4" y2="43.43" stroke="#333" stroke-width="0.8"/>
<line x1="483.4" y1="71.95" x2="486.4" y2="71.95" stroke="#333" stroke-width="0.8"/>
<line x1="427.2" y1="99.38" x2="427.2" y2="107.45" stroke="#333" stroke-width="0.8"/>
<line x1="425.7" y1="99.38" x2="428.7" y2="99.38" stroke="#333" stroke-width="0.8"/>
<line x1="425.7" y1="107.45" x2="428.7" y2="107.45" stroke="#333" stroke-width="0.8"/>
<line x1="446.5" y1="96.16" x2="446.5" y2="106.92" stroke="#333" stroke-width="0.8"/>
<line x1="445" y1="96.16" x2="448" y2="96.16" stroke="#333" stroke-width="0.8"/>
<line x1="445" y1="106.92" x2="448" y2="106.92" stroke="#333" stroke-width="0.8"/>
<line x1="465.7" y1="79.21" x2="465.7" y2="93.74" stroke="#333" stroke-width="0.8"/>
<line x1="464.2" y1="79.21" x2="467.2" y2="79.21" stroke="#333" stroke-width="0.8"/>
<line x1="464.2" y1="93.74" x2="467.2" y2="93.74" stroke="#333" stroke-width="0.8"/>
<line x1="484.9" y1="67.91" x2="484.9" y2="72.22" stroke="#333" stroke-width="0.8"/>
<line x1="483.4" y1="67.91" x2="486.4" y2="67.91" stroke="#333" stroke-width="0.8"/>
<line x1="483.4" y1="72.22" x2="486.4" y2="72.22" stroke="#333" stroke-width="0.8"/>
<circle cx="427.2" cy="103.42" r="1.7" fill="#114f8c"/>
<circle cx="446.5" cy="101.54" r="1.7" fill="#114f8c"/>
<circle cx="465.7" cy="86.47" r="1.7" fill="#114f8c"/>
<circle cx="484.9" cy="70.06" r="1.7" fill="#114f8c"/>
<circle cx="427.2" cy="101.27" r="1.7" fill="#cc1f36"/>
<circle cx="446.5" cy="104.5" r="1.7" fill="#cc1f36"/>
<circle cx="465.7" cy="89.43" r="1.7" fill="#cc1f36"/>
<circle cx="484.9" cy="57.69" r="1.7" fill="#cc1f36"/>
<line x1="471.8" y1="19.4" x2="481.7" y2="19.4" stroke="#cc1f36" stroke-width="1.1"/>
<circle cx="476.7" cy="19.4" r="1.9" fill="#cc1f36"/>
<text x="484.5" y="22.2" font-size="7.6" textLength="26.5" lengthAdjust="spacingAndGlyphs">HMC1.1</text>
<line x1="471.8" y1="27.7" x2="481.7" y2="27.7" stroke="#8ab8e0" stroke-width="0.8"/>
<circle cx="476.7" cy="27.7" r="1.9" fill="#114f8c"/>
<text x="484.5" y="30.5" font-size="7.6" textLength="26.5" lengthAdjust="spacingAndGlyphs">HMC1.2</text>
<text x="432.1" y="117.3" font-size="8.3" text-anchor="end" textLength="24.65" lengthAdjust="spacingAndGlyphs" transform="rotate(-45 432.1 117.3)">DMSO</text>
<text x="451.4" y="117.3" font-size="8.3" text-anchor="end" textLength="54.99" lengthAdjust="spacingAndGlyphs" transform="rotate(-45 451.4 117.3)">Sonidegib 5µM</text>
<text x="470.6" y="117.3" font-size="8.3" text-anchor="end" textLength="59.56" lengthAdjust="spacingAndGlyphs" transform="rotate(-45 470.6 117.3)">Sonidegib 10µM</text>
<text x="489.8" y="117.3" font-size="8.3" text-anchor="end" textLength="59.56" lengthAdjust="spacingAndGlyphs" transform="rotate(-45 489.8 117.3)">Sonidegib 20µM</text>
<text x="59.6" y="183.8" font-size="8.5" textLength="29" lengthAdjust="spacingAndGlyphs">HMC1.1</text>
<text x="140.2" y="183.8" font-size="8.5" textLength="29.2" lengthAdjust="spacingAndGlyphs">HMC1.2</text>
<line x1="41.3" y1="186.5" x2="111.2" y2="186.5" stroke="#333" stroke-width="1"/>
<line x1="121.5" y1="186.5" x2="190.4" y2="186.5" stroke="#333" stroke-width="1"/>
<text x="53.85" y="213.6" font-size="8.3" textLength="24.65" lengthAdjust="spacingAndGlyphs" transform="rotate(-90 53.85 213.6)">DMSO</text>
<text x="73.85" y="213.6" font-size="8.3" textLength="18.43" lengthAdjust="spacingAndGlyphs" transform="rotate(-90 73.85 213.6)">5 µM</text>
<text x="93.25" y="213.6" font-size="8.3" textLength="23" lengthAdjust="spacingAndGlyphs" transform="rotate(-90 93.25 213.6)">10 µM</text>
<text x="110.55" y="213.6" font-size="8.3" textLength="23" lengthAdjust="spacingAndGlyphs" transform="rotate(-90 110.55 213.6)">20 µM</text>
<text x="130.15" y="213.6" font-size="8.3" textLength="24.65" lengthAdjust="spacingAndGlyphs" transform="rotate(-90 130.15 213.6)">DMSO</text>
<text x="149.75" y="213.6" font-size="8.3" textLength="18.43" lengthAdjust="spacingAndGlyphs" transform="rotate(-90 149.75 213.6)">5 µM</text>
<text x="167.05" y="213.6" font-size="8.3" textLength="23" lengthAdjust="spacingAndGlyphs" transform="rotate(-90 167.05 213.6)">10 µM</text>
<text x="185.55" y="213.6" font-size="8.3" textLength="23" lengthAdjust="spacingAndGlyphs" transform="rotate(-90 185.55 213.6)">20 µM</text>
<rect x="36.5" y="217.5" width="167" height="21" fill="#e9e9e9" stroke="#383838" rx="0.8" stroke-width="1"/>
<linearGradient id="g1" gradientUnits="userSpaceOnUse" x1="0" y1="220" x2="0" y2="235.4"><stop offset="0" stop-color="#101010" stop-opacity="0"/><stop offset="0.1" stop-color="#101010" stop-opacity="0.76"/><stop offset="0.21" stop-color="#101010" stop-opacity="0.95"/><stop offset="0.29" stop-color="#101010" stop-opacity="0.76"/><stop offset="0.38" stop-color="#101010" stop-opacity="0.3"/><stop offset="0.45" stop-color="#101010" stop-opacity="0.3"/><stop offset="0.57" stop-color="#101010" stop-opacity="0.47"/><stop offset="0.69" stop-color="#101010" stop-opacity="0.55"/><stop offset="0.77" stop-color="#101010" stop-opacity="0.44"/><stop offset="0.9" stop-color="#101010" stop-opacity="0.05"/><stop offset="1" stop-color="#101010" stop-opacity="0"/></linearGradient>
<rect x="43.2" y="220" width="15.6" height="15.4" fill="url(#g1)" filter="url(#b0)"/>
<linearGradient id="g2" gradientUnits="userSpaceOnUse" x1="0" y1="220" x2="0" y2="235.4"><stop offset="0" stop-color="#101010" stop-opacity="0"/><stop offset="0.1" stop-color="#101010" stop-opacity="0.58"/><stop offset="0.21" stop-color="#101010" stop-opacity="0.72"/><stop offset="0.29" stop-color="#101010" stop-opacity="0.58"/><stop offset="0.38" stop-color="#101010" stop-opacity="0.35"/><stop offset="0.45" stop-color="#101010" stop-opacity="0.35"/><stop offset="0.57" stop-color="#101010" stop-opacity="0.68"/><stop offset="0.69" stop-color="#101010" stop-opacity="0.8"/><stop offset="0.77" stop-color="#101010" stop-opacity="0.64"/><stop offset="0.9" stop-color="#101010" stop-opacity="0.05"/><stop offset="1" stop-color="#101010" stop-opacity="0"/></linearGradient>
<rect x="61.7" y="220" width="15.6" height="15.4" fill="url(#g2)" filter="url(#b0)"/>
<linearGradient id="g3" gradientUnits="userSpaceOnUse" x1="0" y1="220" x2="0" y2="235.4"><stop offset="0" stop-color="#101010" stop-opacity="0"/><stop offset="0.1" stop-color="#101010" stop-opacity="0.4"/><stop offset="0.21" stop-color="#101010" stop-opacity="0.5"/><stop offset="0.29" stop-color="#101010" stop-opacity="0.4"/><stop offset="0.38" stop-color="#101010" stop-opacity="0.3"/><stop offset="0.45" stop-color="#101010" stop-opacity="0.3"/><stop offset="0.57" stop-color="#101010" stop-opacity="0.7"/><stop offset="0.69" stop-color="#101010" stop-opacity="0.82"/><stop offset="0.77" stop-color="#101010" stop-opacity="0.66"/><stop offset="0.9" stop-color="#101010" stop-opacity="0.05"/><stop offset="1" stop-color="#101010" stop-opacity="0"/></linearGradient>
<rect x="81.2" y="220" width="15.6" height="15.4" fill="url(#g3)" filter="url(#b0)"/>
<linearGradient id="g4" gradientUnits="userSpaceOnUse" x1="0" y1="220" x2="0" y2="235.4"><stop offset="0" stop-color="#101010" stop-opacity="0"/><stop offset="0.1" stop-color="#101010" stop-opacity="0.3"/><stop offset="0.21" stop-color="#101010" stop-opacity="0.38"/><stop offset="0.29" stop-color="#101010" stop-opacity="0.3"/><stop offset="0.38" stop-color="#101010" stop-opacity="0.2"/><stop offset="0.45" stop-color="#101010" stop-opacity="0.2"/><stop offset="0.57" stop-color="#101010" stop-opacity="0.49"/><stop offset="0.69" stop-color="#101010" stop-opacity="0.58"/><stop offset="0.77" stop-color="#101010" stop-opacity="0.46"/><stop offset="0.9" stop-color="#101010" stop-opacity="0.05"/><stop offset="1" stop-color="#101010" stop-opacity="0"/></linearGradient>
<rect x="100.4" y="220" width="15.6" height="15.4" fill="url(#g4)" filter="url(#b0)"/>
<linearGradient id="g5" gradientUnits="userSpaceOnUse" x1="0" y1="219.2" x2="0" y2="235.2"><stop offset="0" stop-color="#101010" stop-opacity="0"/><stop offset="0.1" stop-color="#101010" stop-opacity="0.7"/><stop offset="0.2" stop-color="#101010" stop-opacity="0.88"/><stop offset="0.28" stop-color="#101010" stop-opacity="0.7"/><stop offset="0.36" stop-color="#101010" stop-opacity="0.5"/><stop offset="0.42" stop-color="#101010" stop-opacity="0.5"/><stop offset="0.49" stop-color="#101010" stop-opacity="0.78"/><stop offset="0.65" stop-color="#101010" stop-opacity="0.92"/><stop offset="0.76" stop-color="#101010" stop-opacity="0.74"/><stop offset="0.91" stop-color="#101010" stop-opacity="0.05"/><stop offset="1" stop-color="#101010" stop-opacity="0"/></linearGradient>
<rect x="120.2" y="219.2" width="15.2" height="16" fill="url(#g5)" filter="url(#b0)"/>
<linearGradient id="g6" gradientUnits="userSpaceOnUse" x1="0" y1="219.2" x2="0" y2="235.2"><stop offset="0" stop-color="#101010" stop-opacity="0"/><stop offset="0.1" stop-color="#101010" stop-opacity="0.38"/><stop offset="0.2" stop-color="#101010" stop-opacity="0.48"/><stop offset="0.28" stop-color="#101010" stop-opacity="0.38"/><stop offset="0.36" stop-color="#101010" stop-opacity="0.3"/><stop offset="0.42" stop-color="#101010" stop-opacity="0.3"/><stop offset="0.49" stop-color="#101010" stop-opacity="0.77"/><stop offset="0.65" stop-color="#101010" stop-opacity="0.9"/><stop offset="0.76" stop-color="#101010" stop-opacity="0.72"/><stop offset="0.91" stop-color="#101010" stop-opacity="0.05"/><stop offset="1" stop-color="#101010" stop-opacity="0"/></linearGradient>
<rect x="139.4" y="219.2" width="15.2" height="16" fill="url(#g6)" filter="url(#b0)"/>
<linearGradient id="g7" gradientUnits="userSpaceOnUse" x1="0" y1="219.2" x2="0" y2="235.2"><stop offset="0" stop-color="#101010" stop-opacity="0"/><stop offset="0.1" stop-color="#101010" stop-opacity="0.3"/><stop offset="0.2" stop-color="#101010" stop-opacity="0.38"/><stop offset="0.28" stop-color="#101010" stop-opacity="0.3"/><stop offset="0.36" stop-color="#101010" stop-opacity="0.25"/><stop offset="0.42" stop-color="#101010" stop-opacity="0.25"/><stop offset="0.49" stop-color="#101010" stop-opacity="0.77"/><stop offset="0.65" stop-color="#101010" stop-opacity="0.9"/><stop offset="0.76" stop-color="#101010" stop-opacity="0.72"/><stop offset="0.91" stop-color="#101010" stop-opacity="0.05"/><stop offset="1" stop-color="#101010" stop-opacity="0"/></linearGradient>
<rect x="158" y="219.2" width="15.2" height="16" fill="url(#g7)" filter="url(#b0)"/>
<linearGradient id="g8" gradientUnits="userSpaceOnUse" x1="0" y1="219.2" x2="0" y2="235.2"><stop offset="0" stop-color="#101010" stop-opacity="0"/><stop offset="0.1" stop-color="#101010" stop-opacity="0.1"/><stop offset="0.2" stop-color="#101010" stop-opacity="0.12"/><stop offset="0.28" stop-color="#101010" stop-opacity="0.1"/><stop offset="0.36" stop-color="#101010" stop-opacity="0.1"/><stop offset="0.42" stop-color="#101010" stop-opacity="0.1"/><stop offset="0.49" stop-color="#101010" stop-opacity="0.49"/><stop offset="0.65" stop-color="#101010" stop-opacity="0.58"/><stop offset="0.76" stop-color="#101010" stop-opacity="0.46"/><stop offset="0.91" stop-color="#101010" stop-opacity="0.05"/><stop offset="1" stop-color="#101010" stop-opacity="0"/></linearGradient>
<rect x="176.6" y="219.2" width="14.8" height="16" fill="url(#g8)" filter="url(#b0)"/>
<rect x="36.5" y="242.5" width="167" height="20" fill="#f2f2f2" stroke="#383838" rx="0.8" stroke-width="1"/>
<linearGradient id="g9" gradientUnits="userSpaceOnUse" x1="0" y1="251.5" x2="0" y2="261"><stop offset="0" stop-color="#101010" stop-opacity="0"/><stop offset="0.18" stop-color="#101010" stop-opacity="0.85"/><stop offset="0.33" stop-color="#101010" stop-opacity="0.95"/><stop offset="0.46" stop-color="#101010" stop-opacity="0.8"/><stop offset="0.58" stop-color="#101010" stop-opacity="0.25"/><stop offset="0.84" stop-color="#101010" stop-opacity="0.2"/><stop offset="1" stop-color="#101010" stop-opacity="0"/></linearGradient>
<rect x="42.7" y="251.5" width="16.6" height="9.5" fill="url(#g9)" filter="url(#b0)"/>
<rect x="43.7" y="255.5" width="1.1" height="5.5" fill="#222" opacity="0.75" filter="url(#b0)"/>
<rect x="57.2" y="255.5" width="1.1" height="5.5" fill="#222" opacity="0.75" filter="url(#b0)"/>
<linearGradient id="g10" gradientUnits="userSpaceOnUse" x1="0" y1="251.5" x2="0" y2="261"><stop offset="0" stop-color="#101010" stop-opacity="0"/><stop offset="0.18" stop-color="#101010" stop-opacity="0.85"/><stop offset="0.33" stop-color="#101010" stop-opacity="0.95"/><stop offset="0.46" stop-color="#101010" stop-opacity="0.8"/><stop offset="0.58" stop-color="#101010" stop-opacity="0.25"/><stop offset="0.84" stop-color="#101010" stop-opacity="0.2"/><stop offset="1" stop-color="#101010" stop-opacity="0"/></linearGradient>
<rect x="61.2" y="251.5" width="16.6" height="9.5" fill="url(#g10)" filter="url(#b0)"/>
<rect x="62.2" y="255.5" width="1.1" height="5.5" fill="#222" opacity="0.75" filter="url(#b0)"/>
<rect x="75.7" y="255.5" width="1.1" height="5.5" fill="#222" opacity="0.75" filter="url(#b0)"/>
<linearGradient id="g11" gradientUnits="userSpaceOnUse" x1="0" y1="251.5" x2="0" y2="261"><stop offset="0" stop-color="#101010" stop-opacity="0"/><stop offset="0.18" stop-color="#101010" stop-opacity="0.85"/><stop offset="0.33" stop-color="#101010" stop-opacity="0.95"/><stop offset="0.46" stop-color="#101010" stop-opacity="0.8"/><stop offset="0.58" stop-color="#101010" stop-opacity="0.25"/><stop offset="0.84" stop-color="#101010" stop-opacity="0.2"/><stop offset="1" stop-color="#101010" stop-opacity="0"/></linearGradient>
<rect x="80.7" y="251.5" width="16.6" height="9.5" fill="url(#g11)" filter="url(#b0)"/>
<rect x="81.7" y="255.5" width="1.1" height="5.5" fill="#222" opacity="0.75" filter="url(#b0)"/>
<rect x="95.2" y="255.5" width="1.1" height="5.5" fill="#222" opacity="0.75" filter="url(#b0)"/>
<linearGradient id="g12" gradientUnits="userSpaceOnUse" x1="0" y1="251.5" x2="0" y2="261"><stop offset="0" stop-color="#101010" stop-opacity="0"/><stop offset="0.18" stop-color="#101010" stop-opacity="0.85"/><stop offset="0.33" stop-color="#101010" stop-opacity="0.95"/><stop offset="0.46" stop-color="#101010" stop-opacity="0.8"/><stop offset="0.58" stop-color="#101010" stop-opacity="0.25"/><stop offset="0.84" stop-color="#101010" stop-opacity="0.2"/><stop offset="1" stop-color="#101010" stop-opacity="0"/></linearGradient>
<rect x="99.9" y="251.5" width="16.6" height="9.5" fill="url(#g12)" filter="url(#b0)"/>
<rect x="100.9" y="255.5" width="1.1" height="5.5" fill="#222" opacity="0.75" filter="url(#b0)"/>
<rect x="114.4" y="255.5" width="1.1" height="5.5" fill="#222" opacity="0.75" filter="url(#b0)"/>
<linearGradient id="g13" gradientUnits="userSpaceOnUse" x1="0" y1="251.8" x2="0" y2="258"><stop offset="0" stop-color="#101010" stop-opacity="0"/><stop offset="0.26" stop-color="#101010" stop-opacity="0.7"/><stop offset="0.44" stop-color="#101010" stop-opacity="0.85"/><stop offset="0.61" stop-color="#101010" stop-opacity="0.7"/><stop offset="0.87" stop-color="#101010" stop-opacity="0.05"/><stop offset="1" stop-color="#101010" stop-opacity="0"/></linearGradient>
<rect x="120.2" y="251.8" width="15.2" height="6.2" fill="url(#g13)" filter="url(#b0)"/>
<linearGradient id="g14" gradientUnits="userSpaceOnUse" x1="0" y1="251.8" x2="0" y2="258"><stop offset="0" stop-color="#101010" stop-opacity="0"/><stop offset="0.26" stop-color="#101010" stop-opacity="0.7"/><stop offset="0.44" stop-color="#101010" stop-opacity="0.85"/><stop offset="0.61" stop-color="#101010" stop-opacity="0.7"/><stop offset="0.87" stop-color="#101010" stop-opacity="0.05"/><stop offset="1" stop-color="#101010" stop-opacity="0"/></linearGradient>
<rect x="139.4" y="251.8" width="15.2" height="6.2" fill="url(#g14)" filter="url(#b0)"/>
<linearGradient id="g15" gradientUnits="userSpaceOnUse" x1="0" y1="251.8" x2="0" y2="258"><stop offset="0" stop-color="#101010" stop-opacity="0"/><stop offset="0.26" stop-color="#101010" stop-opacity="0.7"/><stop offset="0.44" stop-color="#101010" stop-opacity="0.85"/><stop offset="0.61" stop-color="#101010" stop-opacity="0.7"/><stop offset="0.87" stop-color="#101010" stop-opacity="0.05"/><stop offset="1" stop-color="#101010" stop-opacity="0"/></linearGradient>
<rect x="158" y="251.8" width="15.2" height="6.2" fill="url(#g15)" filter="url(#b0)"/>
<linearGradient id="g16" gradientUnits="userSpaceOnUse" x1="0" y1="251.8" x2="0" y2="258"><stop offset="0" stop-color="#101010" stop-opacity="0"/><stop offset="0.26" stop-color="#101010" stop-opacity="0.7"/><stop offset="0.44" stop-color="#101010" stop-opacity="0.85"/><stop offset="0.61" stop-color="#101010" stop-opacity="0.7"/><stop offset="0.87" stop-color="#101010" stop-opacity="0.05"/><stop offset="1" stop-color="#101010" stop-opacity="0"/></linearGradient>
<rect x="176.6" y="251.8" width="14.8" height="6.2" fill="url(#g16)" filter="url(#b0)"/>
<rect x="36.5" y="265.5" width="167" height="25" fill="#f0f0f0" stroke="#383838" rx="0.8" stroke-width="1"/>
<linearGradient id="g17" gradientUnits="userSpaceOnUse" x1="0" y1="267.5" x2="0" y2="284"><stop offset="0" stop-color="#101010" stop-opacity="0"/><stop offset="0.12" stop-color="#101010" stop-opacity="0.14"/><stop offset="0.19" stop-color="#101010" stop-opacity="0.08"/><stop offset="0.27" stop-color="#101010" stop-opacity="0.18"/><stop offset="0.35" stop-color="#101010" stop-opacity="0.1"/><stop offset="0.43" stop-color="#101010" stop-opacity="0.2"/><stop offset="0.52" stop-color="#101010" stop-opacity="0.2"/><stop offset="0.62" stop-color="#101010" stop-opacity="0.48"/><stop offset="0.7" stop-color="#101010" stop-opacity="0.28"/><stop offset="0.78" stop-color="#101010" stop-opacity="0.38"/><stop offset="0.88" stop-color="#101010" stop-opacity="0.12"/><stop offset="1" stop-color="#101010" stop-opacity="0"/></linearGradient>
<rect x="43.2" y="267.5" width="15.6" height="16.5" fill="url(#g17)" filter="url(#b0)"/>
<linearGradient id="g18" gradientUnits="userSpaceOnUse" x1="0" y1="267.5" x2="0" y2="284"><stop offset="0" stop-color="#101010" stop-opacity="0"/><stop offset="0.12" stop-color="#101010" stop-opacity="0.14"/><stop offset="0.19" stop-color="#101010" stop-opacity="0.08"/><stop offset="0.27" stop-color="#101010" stop-opacity="0.18"/><stop offset="0.35" stop-color="#101010" stop-opacity="0.1"/><stop offset="0.43" stop-color="#101010" stop-opacity="0.2"/><stop offset="0.52" stop-color="#101010" stop-opacity="0.2"/><stop offset="0.62" stop-color="#101010" stop-opacity="0.48"/><stop offset="0.7" stop-color="#101010" stop-opacity="0.28"/><stop offset="0.78" stop-color="#101010" stop-opacity="0.38"/><stop offset="0.88" stop-color="#101010" stop-opacity="0.12"/><stop offset="1" stop-color="#101010" stop-opacity="0"/></linearGradient>
<rect x="61.7" y="267.5" width="15.6" height="16.5" fill="url(#g18)" filter="url(#b0)"/>
<linearGradient id="g19" gradientUnits="userSpaceOnUse" x1="0" y1="267.5" x2="0" y2="284"><stop offset="0" stop-color="#101010" stop-opacity="0"/><stop offset="0.12" stop-color="#101010" stop-opacity="0.12"/><stop offset="0.19" stop-color="#101010" stop-opacity="0.07"/><stop offset="0.27" stop-color="#101010" stop-opacity="0.15"/><stop offset="0.35" stop-color="#101010" stop-opacity="0.09"/><stop offset="0.43" stop-color="#101010" stop-opacity="0.17"/><stop offset="0.52" stop-color="#101010" stop-opacity="0.17"/><stop offset="0.62" stop-color="#101010" stop-opacity="0.41"/><stop offset="0.7" stop-color="#101010" stop-opacity="0.24"/><stop offset="0.78" stop-color="#101010" stop-opacity="0.32"/><stop offset="0.88" stop-color="#101010" stop-opacity="0.1"/><stop offset="1" stop-color="#101010" stop-opacity="0"/></linearGradient>
<rect x="81.2" y="267.5" width="15.6" height="16.5" fill="url(#g19)" filter="url(#b0)"/>
<linearGradient id="g20" gradientUnits="userSpaceOnUse" x1="0" y1="267.5" x2="0" y2="284"><stop offset="0" stop-color="#101010" stop-opacity="0"/><stop offset="0.12" stop-color="#101010" stop-opacity="0.08"/><stop offset="0.19" stop-color="#101010" stop-opacity="0.05"/><stop offset="0.27" stop-color="#101010" stop-opacity="0.11"/><stop offset="0.35" stop-color="#101010" stop-opacity="0.06"/><stop offset="0.43" stop-color="#101010" stop-opacity="0.12"/><stop offset="0.52" stop-color="#101010" stop-opacity="0.12"/><stop offset="0.62" stop-color="#101010" stop-opacity="0.29"/><stop offset="0.7" stop-color="#101010" stop-opacity="0.17"/><stop offset="0.78" stop-color="#101010" stop-opacity="0.23"/><stop offset="0.88" stop-color="#101010" stop-opacity="0.07"/><stop offset="1" stop-color="#101010" stop-opacity="0"/></linearGradient>
<rect x="100.4" y="267.5" width="15.6" height="16.5" fill="url(#g20)" filter="url(#b0)"/>
<linearGradient id="g21" gradientUnits="userSpaceOnUse" x1="0" y1="270" x2="0" y2="282.5"><stop offset="0" stop-color="#101010" stop-opacity="0"/><stop offset="0.18" stop-color="#101010" stop-opacity="0.14"/><stop offset="0.32" stop-color="#101010" stop-opacity="0.38"/><stop offset="0.46" stop-color="#101010" stop-opacity="0.18"/><stop offset="0.64" stop-color="#101010" stop-opacity="0.11"/><stop offset="0.8" stop-color="#101010" stop-opacity="0.16"/><stop offset="1" stop-color="#101010" stop-opacity="0"/></linearGradient>
<rect x="120.2" y="270" width="15.2" height="12.5" fill="url(#g21)" filter="url(#b0)"/>
<linearGradient id="g22" gradientUnits="userSpaceOnUse" x1="0" y1="270" x2="0" y2="282.5"><stop offset="0" stop-color="#101010" stop-opacity="0"/><stop offset="0.18" stop-color="#101010" stop-opacity="0.15"/><stop offset="0.32" stop-color="#101010" stop-opacity="0.42"/><stop offset="0.46" stop-color="#101010" stop-opacity="0.2"/><stop offset="0.64" stop-color="#101010" stop-opacity="0.12"/><stop offset="0.8" stop-color="#101010" stop-opacity="0.18"/><stop offset="1" stop-color="#101010" stop-opacity="0"/></linearGradient>
<rect x="139.4" y="270" width="15.2" height="12.5" fill="url(#g22)" filter="url(#b0)"/>
<linearGradient id="g23" gradientUnits="userSpaceOnUse" x1="0" y1="270" x2="0" y2="282.5"><stop offset="0" stop-color="#101010" stop-opacity="0"/><stop offset="0.18" stop-color="#101010" stop-opacity="0.15"/><stop offset="0.32" stop-color="#101010" stop-opacity="0.42"/><stop offset="0.46" stop-color="#101010" stop-opacity="0.2"/><stop offset="0.64" stop-color="#101010" stop-opacity="0.12"/><stop offset="0.8" stop-color="#101010" stop-opacity="0.18"/><stop offset="1" stop-color="#101010" stop-opacity="0"/></linearGradient>
<rect x="158" y="270" width="15.2" height="12.5" fill="url(#g23)" filter="url(#b0)"/>
<linearGradient id="g24" gradientUnits="userSpaceOnUse" x1="0" y1="270" x2="0" y2="282.5"><stop offset="0" stop-color="#101010" stop-opacity="0"/><stop offset="0.18" stop-color="#101010" stop-opacity="0.14"/><stop offset="0.32" stop-color="#101010" stop-opacity="0.38"/><stop offset="0.46" stop-color="#101010" stop-opacity="0.18"/><stop offset="0.64" stop-color="#101010" stop-opacity="0.11"/><stop offset="0.8" stop-color="#101010" stop-opacity="0.16"/><stop offset="1" stop-color="#101010" stop-opacity="0"/></linearGradient>
<rect x="176.6" y="270" width="14.8" height="12.5" fill="url(#g24)" filter="url(#b0)"/>
<rect x="36.5" y="294.5" width="167" height="18" fill="#f3f3f3" stroke="#383838" rx="0.8" stroke-width="1"/>
<linearGradient id="g25" gradientUnits="userSpaceOnUse" x1="0" y1="302.8" x2="0" y2="312.5"><stop offset="0" stop-color="#101010" stop-opacity="0"/><stop offset="0.28" stop-color="#101010" stop-opacity="0.1"/><stop offset="0.44" stop-color="#101010" stop-opacity="0.75"/><stop offset="0.62" stop-color="#101010" stop-opacity="0.95"/><stop offset="0.79" stop-color="#101010" stop-opacity="0.9"/><stop offset="0.92" stop-color="#101010" stop-opacity="0.45"/><stop offset="1" stop-color="#101010" stop-opacity="0"/></linearGradient>
<rect x="45.2" y="302.8" width="18.6" height="9.7" fill="url(#g25)" filter="url(#b0)"/>
<linearGradient id="g26" gradientUnits="userSpaceOnUse" x1="0" y1="301.1" x2="0" y2="310.8"><stop offset="0" stop-color="#101010" stop-opacity="0"/><stop offset="0.28" stop-color="#101010" stop-opacity="0.1"/><stop offset="0.44" stop-color="#101010" stop-opacity="0.75"/><stop offset="0.62" stop-color="#101010" stop-opacity="0.95"/><stop offset="0.79" stop-color="#101010" stop-opacity="0.9"/><stop offset="0.92" stop-color="#101010" stop-opacity="0.45"/><stop offset="1" stop-color="#101010" stop-opacity="0"/></linearGradient>
<rect x="65.2" y="301.1" width="17.2" height="9.7" fill="url(#g26)" filter="url(#b0)"/>
<linearGradient id="g27" gradientUnits="userSpaceOnUse" x1="0" y1="300.3" x2="0" y2="310"><stop offset="0" stop-color="#101010" stop-opacity="0"/><stop offset="0.28" stop-color="#101010" stop-opacity="0.1"/><stop offset="0.44" stop-color="#101010" stop-opacity="0.75"/><stop offset="0.62" stop-color="#101010" stop-opacity="0.95"/><stop offset="0.79" stop-color="#101010" stop-opacity="0.9"/><stop offset="0.92" stop-color="#101010" stop-opacity="0.45"/><stop offset="1" stop-color="#101010" stop-opacity="0"/></linearGradient>
<rect x="83.8" y="300.3" width="16.6" height="9.7" fill="url(#g27)" filter="url(#b0)"/>
<linearGradient id="g28" gradientUnits="userSpaceOnUse" x1="0" y1="299.5" x2="0" y2="309.2"><stop offset="0" stop-color="#101010" stop-opacity="0"/><stop offset="0.28" stop-color="#101010" stop-opacity="0.1"/><stop offset="0.44" stop-color="#101010" stop-opacity="0.75"/><stop offset="0.62" stop-color="#101010" stop-opacity="0.95"/><stop offset="0.79" stop-color="#101010" stop-opacity="0.9"/><stop offset="0.92" stop-color="#101010" stop-opacity="0.45"/><stop offset="1" stop-color="#101010" stop-opacity="0"/></linearGradient>
<rect x="102.6" y="299.5" width="16.6" height="9.7" fill="url(#g28)" filter="url(#b0)"/>
<linearGradient id="g29" gradientUnits="userSpaceOnUse" x1="0" y1="296.5" x2="0" y2="308"><stop offset="0" stop-color="#101010" stop-opacity="0"/><stop offset="0.21" stop-color="#101010" stop-opacity="0.3"/><stop offset="0.33" stop-color="#101010" stop-opacity="0.18"/><stop offset="0.48" stop-color="#101010" stop-opacity="0.8"/><stop offset="0.63" stop-color="#101010" stop-opacity="0.95"/><stop offset="0.77" stop-color="#101010" stop-opacity="0.75"/><stop offset="0.9" stop-color="#101010" stop-opacity="0.1"/><stop offset="1" stop-color="#101010" stop-opacity="0"/></linearGradient>
<rect x="119.6" y="296.5" width="16.8" height="11.5" fill="url(#g29)" filter="url(#b0)"/>
<linearGradient id="g30" gradientUnits="userSpaceOnUse" x1="0" y1="296.5" x2="0" y2="308"><stop offset="0" stop-color="#101010" stop-opacity="0"/><stop offset="0.21" stop-color="#101010" stop-opacity="0.3"/><stop offset="0.33" stop-color="#101010" stop-opacity="0.18"/><stop offset="0.48" stop-color="#101010" stop-opacity="0.8"/><stop offset="0.63" stop-color="#101010" stop-opacity="0.95"/><stop offset="0.77" stop-color="#101010" stop-opacity="0.75"/><stop offset="0.9" stop-color="#101010" stop-opacity="0.1"/><stop offset="1" stop-color="#101010" stop-opacity="0"/></linearGradient>
<rect x="138.8" y="296.5" width="16.8" height="11.5" fill="url(#g30)" filter="url(#b0)"/>
<linearGradient id="g31" gradientUnits="userSpaceOnUse" x1="0" y1="296.5" x2="0" y2="308"><stop offset="0" stop-color="#101010" stop-opacity="0"/><stop offset="0.21" stop-color="#101010" stop-opacity="0.3"/><stop offset="0.33" stop-color="#101010" stop-opacity="0.18"/><stop offset="0.48" stop-color="#101010" stop-opacity="0.8"/><stop offset="0.63" stop-color="#101010" stop-opacity="0.95"/><stop offset="0.77" stop-color="#101010" stop-opacity="0.75"/><stop offset="0.9" stop-color="#101010" stop-opacity="0.1"/><stop offset="1" stop-color="#101010" stop-opacity="0"/></linearGradient>
<rect x="157.4" y="296.5" width="16.8" height="11.5" fill="url(#g31)" filter="url(#b0)"/>
<linearGradient id="g32" gradientUnits="userSpaceOnUse" x1="0" y1="296.5" x2="0" y2="308"><stop offset="0" stop-color="#101010" stop-opacity="0"/><stop offset="0.21" stop-color="#101010" stop-opacity="0.3"/><stop offset="0.33" stop-color="#101010" stop-opacity="0.18"/><stop offset="0.48" stop-color="#101010" stop-opacity="0.8"/><stop offset="0.63" stop-color="#101010" stop-opacity="0.95"/><stop offset="0.77" stop-color="#101010" stop-opacity="0.75"/><stop offset="0.9" stop-color="#101010" stop-opacity="0.1"/><stop offset="1" stop-color="#101010" stop-opacity="0"/></linearGradient>
<rect x="176" y="296.5" width="16.4" height="11.5" fill="url(#g32)" filter="url(#b0)"/>
<rect x="36.5" y="315.5" width="167" height="19" fill="#f3f3f3" stroke="#383838" rx="0.8" stroke-width="1"/>
<linearGradient id="g33" gradientUnits="userSpaceOnUse" x1="0" y1="320.7" x2="0" y2="330.3"><stop offset="0" stop-color="#101010" stop-opacity="0"/><stop offset="0.21" stop-color="#101010" stop-opacity="0.48"/><stop offset="0.36" stop-color="#101010" stop-opacity="0.79"/><stop offset="0.52" stop-color="#101010" stop-opacity="0.88"/><stop offset="0.68" stop-color="#101010" stop-opacity="0.81"/><stop offset="0.82" stop-color="#101010" stop-opacity="0.48"/><stop offset="1" stop-color="#101010" stop-opacity="0"/></linearGradient>
<rect x="46.9" y="320.7" width="16.7" height="9.6" fill="url(#g33)" filter="url(#b0)"/>
<linearGradient id="g34" gradientUnits="userSpaceOnUse" x1="0" y1="320.7" x2="0" y2="330.3"><stop offset="0" stop-color="#101010" stop-opacity="0"/><stop offset="0.21" stop-color="#101010" stop-opacity="0.48"/><stop offset="0.36" stop-color="#101010" stop-opacity="0.79"/><stop offset="0.52" stop-color="#101010" stop-opacity="0.88"/><stop offset="0.68" stop-color="#101010" stop-opacity="0.81"/><stop offset="0.82" stop-color="#101010" stop-opacity="0.48"/><stop offset="1" stop-color="#101010" stop-opacity="0"/></linearGradient>
<rect x="65.2" y="320.7" width="17.2" height="9.6" fill="url(#g34)" filter="url(#b0)"/>
<linearGradient id="g35" gradientUnits="userSpaceOnUse" x1="0" y1="320.7" x2="0" y2="330.3"><stop offset="0" stop-color="#101010" stop-opacity="0"/><stop offset="0.21" stop-color="#101010" stop-opacity="0.53"/><stop offset="0.36" stop-color="#101010" stop-opacity="0.87"/><stop offset="0.52" stop-color="#101010" stop-opacity="0.97"/><stop offset="0.68" stop-color="#101010" stop-opacity="0.89"/><stop offset="0.82" stop-color="#101010" stop-opacity="0.53"/><stop offset="1" stop-color="#101010" stop-opacity="0"/></linearGradient>
<rect x="83.2" y="320.7" width="17.2" height="9.6" fill="url(#g35)" filter="url(#b0)"/>
<linearGradient id="g36" gradientUnits="userSpaceOnUse" x1="0" y1="320.7" x2="0" y2="330.3"><stop offset="0" stop-color="#101010" stop-opacity="0"/><stop offset="0.21" stop-color="#101010" stop-opacity="0.52"/><stop offset="0.36" stop-color="#101010" stop-opacity="0.85"/><stop offset="0.52" stop-color="#101010" stop-opacity="0.95"/><stop offset="0.68" stop-color="#101010" stop-opacity="0.87"/><stop offset="0.82" stop-color="#101010" stop-opacity="0.52"/><stop offset="1" stop-color="#101010" stop-opacity="0"/></linearGradient>
<rect x="102.5" y="320.7" width="16.7" height="9.6" fill="url(#g36)" filter="url(#b0)"/>
<linearGradient id="g37" gradientUnits="userSpaceOnUse" x1="0" y1="321.9" x2="0" y2="331.5"><stop offset="0" stop-color="#101010" stop-opacity="0"/><stop offset="0.21" stop-color="#101010" stop-opacity="0.53"/><stop offset="0.36" stop-color="#101010" stop-opacity="0.87"/><stop offset="0.52" stop-color="#101010" stop-opacity="0.97"/><stop offset="0.68" stop-color="#101010" stop-opacity="0.89"/><stop offset="0.82" stop-color="#101010" stop-opacity="0.53"/><stop offset="1" stop-color="#101010" stop-opacity="0"/></linearGradient>
<rect x="120.7" y="321.9" width="16.6" height="9.6" fill="url(#g37)" filter="url(#b0)"/>
<linearGradient id="g38" gradientUnits="userSpaceOnUse" x1="0" y1="321.9" x2="0" y2="331.5"><stop offset="0" stop-color="#101010" stop-opacity="0"/><stop offset="0.21" stop-color="#101010" stop-opacity="0.52"/><stop offset="0.36" stop-color="#101010" stop-opacity="0.85"/><stop offset="0.52" stop-color="#101010" stop-opacity="0.95"/><stop offset="0.68" stop-color="#101010" stop-opacity="0.87"/><stop offset="0.82" stop-color="#101010" stop-opacity="0.52"/><stop offset="1" stop-color="#101010" stop-opacity="0"/></linearGradient>
<rect x="139.7" y="321.9" width="16.6" height="9.6" fill="url(#g38)" filter="url(#b0)"/>
<linearGradient id="g39" gradientUnits="userSpaceOnUse" x1="0" y1="321.9" x2="0" y2="331.5"><stop offset="0" stop-color="#101010" stop-opacity="0"/><stop offset="0.21" stop-color="#101010" stop-opacity="0.5"/><stop offset="0.36" stop-color="#101010" stop-opacity="0.81"/><stop offset="0.52" stop-color="#101010" stop-opacity="0.9"/><stop offset="0.68" stop-color="#101010" stop-opacity="0.83"/><stop offset="0.82" stop-color="#101010" stop-opacity="0.5"/><stop offset="1" stop-color="#101010" stop-opacity="0"/></linearGradient>
<rect x="158.7" y="321.9" width="16.6" height="9.6" fill="url(#g39)" filter="url(#b0)"/>
<linearGradient id="g40" gradientUnits="userSpaceOnUse" x1="0" y1="321.9" x2="0" y2="331.5"><stop offset="0" stop-color="#101010" stop-opacity="0"/><stop offset="0.21" stop-color="#101010" stop-opacity="0.52"/><stop offset="0.36" stop-color="#101010" stop-opacity="0.85"/><stop offset="0.52" stop-color="#101010" stop-opacity="0.95"/><stop offset="0.68" stop-color="#101010" stop-opacity="0.87"/><stop offset="0.82" stop-color="#101010" stop-opacity="0.52"/><stop offset="1" stop-color="#101010" stop-opacity="0"/></linearGradient>
<rect x="177.4" y="321.9" width="16.4" height="9.6" fill="url(#g40)" filter="url(#b0)"/>
<text x="33.2" y="230" font-size="8.3" text-anchor="end" textLength="17.09" lengthAdjust="spacingAndGlyphs">GLI1</text>
<text x="33.2" y="256.9" font-size="8.3" text-anchor="end" textLength="22.35" lengthAdjust="spacingAndGlyphs">GLI3A</text>
<text x="33.2" y="280.2" font-size="8.3" text-anchor="end" textLength="22.79" lengthAdjust="spacingAndGlyphs">GLI3R</text>
<text x="33.2" y="308.7" font-size="8.3" text-anchor="end" textLength="15.34" lengthAdjust="spacingAndGlyphs">Bcl2</text>
<text x="33.2" y="329.3" font-size="8.3" text-anchor="end" textLength="24.98" lengthAdjust="spacingAndGlyphs">HSP90</text>
<line x1="265" y1="217.4" x2="265" y2="298" stroke="#2b2b2b" stroke-width="1"/>
<line x1="264.5" y1="297.5" x2="339.3" y2="297.5" stroke="#2b2b2b" stroke-width="1"/>
<line x1="262.2" y1="297.5" x2="265" y2="297.5" stroke="#2b2b2b" stroke-width="1"/>
<text class="h" x="259.5" y="300.5" font-size="8.5" text-anchor="end" textLength="11.23" lengthAdjust="spacingAndGlyphs">0.0</text>
<line x1="262.2" y1="270.8" x2="265" y2="270.8" stroke="#2b2b2b" stroke-width="1"/>
<text class="h" x="259.5" y="273.8" font-size="8.5" text-anchor="end" textLength="11.23" lengthAdjust="spacingAndGlyphs">0.1</text>
<line x1="262.2" y1="244.1" x2="265" y2="244.1" stroke="#2b2b2b" stroke-width="1"/>
<text class="h" x="259.5" y="247.1" font-size="8.5" text-anchor="end" textLength="11.23" lengthAdjust="spacingAndGlyphs">0.2</text>
<line x1="262.2" y1="217.4" x2="265" y2="217.4" stroke="#2b2b2b" stroke-width="1"/>
<text class="h" x="259.5" y="220.4" font-size="8.5" text-anchor="end" textLength="11.23" lengthAdjust="spacingAndGlyphs">0.3</text>
<line x1="276.8" y1="238.23" x2="276.8" y2="229.15" stroke="#7a7a7a" stroke-width="1"/>
<line x1="274.2" y1="229.15" x2="279.4" y2="229.15" stroke="#7a7a7a" stroke-width="1"/>
<rect x="270.9" y="238.23" width="11.8" height="59.27" fill="#cc1f36"/>
<line x1="293.8" y1="250.24" x2="293.8" y2="240.63" stroke="#7a7a7a" stroke-width="1"/>
<line x1="291.2" y1="240.63" x2="296.4" y2="240.63" stroke="#7a7a7a" stroke-width="1"/>
<rect x="287.9" y="250.24" width="11.8" height="47.26" fill="#114f8c"/>
<line x1="311" y1="258.79" x2="311" y2="242.23" stroke="#7a7a7a" stroke-width="1"/>
<line x1="308.4" y1="242.23" x2="313.6" y2="242.23" stroke="#7a7a7a" stroke-width="1"/>
<rect x="305.1" y="258.79" width="11.8" height="38.71" fill="#3bb54a"/>
<line x1="328.2" y1="267.06" x2="328.2" y2="255.31" stroke="#7a7a7a" stroke-width="1"/>
<line x1="325.6" y1="255.31" x2="330.8" y2="255.31" stroke="#7a7a7a" stroke-width="1"/>
<rect x="322.3" y="267.06" width="11.8" height="30.44" fill="#5b2a7a"/>
<line x1="276.8" y1="297.5" x2="276.8" y2="300.1" stroke="#2b2b2b" stroke-width="1"/>
<line x1="293.8" y1="297.5" x2="293.8" y2="300.1" stroke="#2b2b2b" stroke-width="1"/>
<line x1="311" y1="297.5" x2="311" y2="300.1" stroke="#2b2b2b" stroke-width="1"/>
<line x1="328.2" y1="297.5" x2="328.2" y2="300.1" stroke="#2b2b2b" stroke-width="1"/>
<polyline points="278.2,220.4 278.2,214.8 328.7,214.8 328.7,220.4" fill="none" stroke="#333" stroke-width="1"/>
<text x="284" y="212.3" font-size="7.6" textLength="38.9" lengthAdjust="spacingAndGlyphs"><tspan font-size="6.2" dy="-1">*</tspan><tspan font-style="italic" dy="1">p</tspan> = 0.0205</text>
<text transform="translate(231.4 301.9) rotate(-90)" font-size="8.6"><tspan font-weight="bold" fill="#111" stroke="#111" stroke-width="0.25" textLength="49.9" lengthAdjust="spacingAndGlyphs">P-STAT3 (S727)</tspan><tspan font-size="8.4" textLength="39.6" lengthAdjust="spacingAndGlyphs">/Reference</tspan></text>
<text x="242.5" y="301.7" font-size="8.6" textLength="96.4" lengthAdjust="spacingAndGlyphs" transform="rotate(-90 242.5 301.7)">spot relative protein expression</text>
<text x="281.7" y="306" font-size="8.3" text-anchor="end" textLength="24.65" lengthAdjust="spacingAndGlyphs" transform="rotate(-45 281.7 306)">DMSO</text>
<text x="298.7" y="306" font-size="8.3" text-anchor="end" textLength="54.99" lengthAdjust="spacingAndGlyphs" transform="rotate(-45 298.7 306)">Sonidegib 5µM</text>
<text x="315.9" y="306" font-size="8.3" text-anchor="end" textLength="59.56" lengthAdjust="spacingAndGlyphs" transform="rotate(-45 315.9 306)">Sonidegib 10µM</text>
<text x="333.1" y="306" font-size="8.3" text-anchor="end" textLength="59.56" lengthAdjust="spacingAndGlyphs" transform="rotate(-45 333.1 306)">Sonidegib 20µM</text>
<line x1="391.5" y1="206.2" x2="391.5" y2="309.8" stroke="#2b2b2b" stroke-width="1"/>
<line x1="391" y1="309.3" x2="474.4" y2="309.3" stroke="#2b2b2b" stroke-width="1"/>
<line x1="388.7" y1="309.3" x2="391.5" y2="309.3" stroke="#2b2b2b" stroke-width="1"/>
<text class="h" x="386.2" y="312.3" font-size="8.5" text-anchor="end" textLength="4.16" lengthAdjust="spacingAndGlyphs">0</text>
<line x1="388.7" y1="283.5" x2="391.5" y2="283.5" stroke="#2b2b2b" stroke-width="1"/>
<text class="h" x="386.2" y="286.5" font-size="8.5" text-anchor="end" textLength="8.32" lengthAdjust="spacingAndGlyphs">10</text>
<line x1="388.7" y1="257.7" x2="391.5" y2="257.7" stroke="#2b2b2b" stroke-width="1"/>
<text class="h" x="386.2" y="260.7" font-size="8.5" text-anchor="end" textLength="8.32" lengthAdjust="spacingAndGlyphs">20</text>
<line x1="388.7" y1="231.9" x2="391.5" y2="231.9" stroke="#2b2b2b" stroke-width="1"/>
<text class="h" x="386.2" y="234.9" font-size="8.5" text-anchor="end" textLength="8.32" lengthAdjust="spacingAndGlyphs">30</text>
<line x1="388.7" y1="206.1" x2="391.5" y2="206.1" stroke="#2b2b2b" stroke-width="1"/>
<text class="h" x="386.2" y="209.1" font-size="8.5" text-anchor="end" textLength="8.32" lengthAdjust="spacingAndGlyphs">40</text>
<line x1="399.3" y1="298.98" x2="399.3" y2="295.11" stroke="#222" stroke-width="0.9"/>
<line x1="397.1" y1="295.11" x2="401.5" y2="295.11" stroke="#222" stroke-width="0.9"/>
<rect x="396.2" y="298.98" width="6.2" height="10.32" fill="#cc1f36"/>
<line x1="411.3" y1="284.79" x2="411.3" y2="281.18" stroke="#222" stroke-width="0.9"/>
<line x1="409.1" y1="281.18" x2="413.5" y2="281.18" stroke="#222" stroke-width="0.9"/>
<rect x="408" y="284.79" width="6.6" height="24.51" fill="#114f8c"/>
<line x1="423.25" y1="262.09" x2="423.25" y2="257.7" stroke="#222" stroke-width="0.9"/>
<line x1="421.05" y1="257.7" x2="425.45" y2="257.7" stroke="#222" stroke-width="0.9"/>
<rect x="419.8" y="262.09" width="6.9" height="47.21" fill="#3bb54a"/>
<rect x="440.2" y="284.79" width="5.8" height="24.51" fill="#cc1f36"/>
<rect x="451.2" y="252.8" width="7" height="56.5" fill="#114f8c"/>
<rect x="463" y="224.68" width="6.8" height="84.62" fill="#3bb54a"/>
<line x1="411.5" y1="309.3" x2="411.5" y2="311.9" stroke="#2b2b2b" stroke-width="1"/>
<line x1="454.7" y1="309.3" x2="454.7" y2="311.9" stroke="#2b2b2b" stroke-width="1"/>
<text x="411.1" y="322.3" font-size="8" text-anchor="middle" textLength="20.7" lengthAdjust="spacingAndGlyphs">ASM1</text>
<text x="454.3" y="322.3" font-size="8" text-anchor="middle" textLength="20.27" lengthAdjust="spacingAndGlyphs">MCL4</text>
<polyline points="402.3,222.1 402.3,216.4 423,216.4 423,222.1" fill="none" stroke="#333" stroke-width="1"/>
<polyline points="401.6,246 401.6,241.7 410.9,241.7 410.9,246" fill="none" stroke="#333" stroke-width="1"/>
<text x="412.7" y="216.35" font-size="9" text-anchor="middle">*</text>
<text x="405.7" y="242.05" font-size="9" text-anchor="middle">*</text>
<text class="h" x="371.9" y="257.1" font-size="8.8" text-anchor="middle" textLength="77.2" lengthAdjust="spacingAndGlyphs" transform="rotate(-90 371.9 257.1)">7AAD positive cells (%)</text>
<rect x="443.2" y="178.9" width="10.6" height="5.4" fill="#cc1f36"/>
<text x="457" y="184.5" font-size="8.5" textLength="22" lengthAdjust="spacingAndGlyphs">DMSO</text>
<rect x="443.2" y="189.7" width="10.6" height="5.4" fill="#114f8c"/>
<text x="457" y="195.3" font-size="8.5" textLength="54.8" lengthAdjust="spacingAndGlyphs">Sonidegib 10µM</text>
<rect x="443.2" y="200.6" width="10.6" height="5.4" fill="#3bb54a"/>
<text x="457" y="206.2" font-size="8.5" textLength="54.8" lengthAdjust="spacingAndGlyphs">Sonidegib 20µM</text>
<text x="24" y="390.2" font-size="8.5" textLength="184.5" lengthAdjust="spacingAndGlyphs">Primary mast cells of a patient with <tspan font-style="italic">KIT</tspan> D816V ASM</text>
<line x1="39.6" y1="401.8" x2="39.6" y2="497.7" stroke="#2b2b2b" stroke-width="1"/>
<line x1="39.1" y1="497.2" x2="132" y2="497.2" stroke="#2b2b2b" stroke-width="1"/>
<line x1="36.8" y1="497.2" x2="39.6" y2="497.2" stroke="#2b2b2b" stroke-width="1"/>
<text class="h" x="34.4" y="500.2" font-size="8.5" text-anchor="end" textLength="4.16" lengthAdjust="spacingAndGlyphs">0</text>
<line x1="36.8" y1="465.4" x2="39.6" y2="465.4" stroke="#2b2b2b" stroke-width="1"/>
<text class="h" x="34.4" y="468.4" font-size="8.5" text-anchor="end" textLength="8.32" lengthAdjust="spacingAndGlyphs">10</text>
<line x1="36.8" y1="433.6" x2="39.6" y2="433.6" stroke="#2b2b2b" stroke-width="1"/>
<text class="h" x="34.4" y="436.6" font-size="8.5" text-anchor="end" textLength="8.32" lengthAdjust="spacingAndGlyphs">20</text>
<line x1="36.8" y1="401.8" x2="39.6" y2="401.8" stroke="#2b2b2b" stroke-width="1"/>
<text class="h" x="34.4" y="404.8" font-size="8.5" text-anchor="end" textLength="8.32" lengthAdjust="spacingAndGlyphs">30</text>
<line x1="67.92" y1="497.2" x2="67.92" y2="499.8" stroke="#2b2b2b" stroke-width="1"/>
<text class="h" x="67.92" y="509.6" font-size="8.5" text-anchor="middle" textLength="8.32" lengthAdjust="spacingAndGlyphs">48</text>
<line x1="96.24" y1="497.2" x2="96.24" y2="499.8" stroke="#2b2b2b" stroke-width="1"/>
<text class="h" x="96.24" y="509.6" font-size="8.5" text-anchor="middle" textLength="8.32" lengthAdjust="spacingAndGlyphs">96</text>
<line x1="131.64" y1="497.2" x2="131.64" y2="499.8" stroke="#2b2b2b" stroke-width="1"/>
<text class="h" x="131.64" y="509.6" font-size="8.5" text-anchor="middle" textLength="12.48" lengthAdjust="spacingAndGlyphs">156</text>
<text class="h" x="85.6" y="521.8" font-size="9.2" text-anchor="middle" textLength="42" lengthAdjust="spacingAndGlyphs">Time (hours)</text>
<text class="h" x="19.3" y="448.7" font-size="8.8" text-anchor="middle" textLength="51.5" lengthAdjust="spacingAndGlyphs" transform="rotate(-90 19.3 448.7)">Confluence (%)</text>
<polyline points="39.6,457.13 46.68,454.27 53.76,452.68 60.84,448.55 67.92,446.32 75,444.73 82.08,444.73 89.16,445.05 96.24,446.96 103.32,447.59 106.86,447.91 110.4,448.86 117.48,449.18 121.02,449.82 124.56,450.14 131.64,454.27" fill="none" stroke="#3bb54a" stroke-width="1" stroke-dasharray="2.4,1.6" stroke-linejoin="round"/>
<polyline points="39.6,453.95 46.68,452.68 53.76,449.18 60.84,444.73 67.92,439.96 75,437.1 82.08,433.6 89.16,432.96 96.24,432.01 103.32,432.96 106.86,433.6 110.4,433.6 117.48,434.55 121.02,435.51 124.56,435.51 131.64,440.28" fill="none" stroke="#114f8c" stroke-width="1.1" stroke-linejoin="round"/>
<polyline points="39.6,455.54 46.68,452.04 53.76,447.27 60.84,443.46 67.92,438.69 75,434.55 82.08,431.06 89.16,429.78 96.24,425.01 103.32,423.11 106.86,422.47 110.4,421.52 117.48,418.34 121.02,418.65 124.56,415.79 131.64,415.79" fill="none" stroke="#cc1f36" stroke-width="1.1" stroke-linejoin="round"/>
<line x1="39.6" y1="456.18" x2="39.6" y2="458.09" stroke="#222" stroke-width="0.8"/>
<line x1="38.1" y1="456.18" x2="41.1" y2="456.18" stroke="#222" stroke-width="0.8"/>
<line x1="38.1" y1="458.09" x2="41.1" y2="458.09" stroke="#222" stroke-width="0.8"/>
<line x1="46.68" y1="452.68" x2="46.68" y2="455.86" stroke="#222" stroke-width="0.8"/>
<line x1="45.18" y1="452.68" x2="48.18" y2="452.68" stroke="#222" stroke-width="0.8"/>
<line x1="45.18" y1="455.86" x2="48.18" y2="455.86" stroke="#222" stroke-width="0.8"/>
<line x1="53.76" y1="450.77" x2="53.76" y2="454.59" stroke="#222" stroke-width="0.8"/>
<line x1="52.26" y1="450.77" x2="55.26" y2="450.77" stroke="#222" stroke-width="0.8"/>
<line x1="52.26" y1="454.59" x2="55.26" y2="454.59" stroke="#222" stroke-width="0.8"/>
<line x1="60.84" y1="446.64" x2="60.84" y2="450.45" stroke="#222" stroke-width="0.8"/>
<line x1="59.34" y1="446.64" x2="62.34" y2="446.64" stroke="#222" stroke-width="0.8"/>
<line x1="59.34" y1="450.45" x2="62.34" y2="450.45" stroke="#222" stroke-width="0.8"/>
<line x1="67.92" y1="445.37" x2="67.92" y2="447.27" stroke="#222" stroke-width="0.8"/>
<line x1="66.42" y1="445.37" x2="69.42" y2="445.37" stroke="#222" stroke-width="0.8"/>
<line x1="66.42" y1="447.27" x2="69.42" y2="447.27" stroke="#222" stroke-width="0.8"/>
<line x1="75" y1="443.78" x2="75" y2="445.68" stroke="#222" stroke-width="0.8"/>
<line x1="73.5" y1="443.78" x2="76.5" y2="443.78" stroke="#222" stroke-width="0.8"/>
<line x1="73.5" y1="445.68" x2="76.5" y2="445.68" stroke="#222" stroke-width="0.8"/>
<line x1="82.08" y1="442.82" x2="82.08" y2="446.64" stroke="#222" stroke-width="0.8"/>
<line x1="80.58" y1="442.82" x2="83.58" y2="442.82" stroke="#222" stroke-width="0.8"/>
<line x1="80.58" y1="446.64" x2="83.58" y2="446.64" stroke="#222" stroke-width="0.8"/>
<line x1="89.16" y1="441.87" x2="89.16" y2="448.23" stroke="#222" stroke-width="0.8"/>
<line x1="87.66" y1="441.87" x2="90.66" y2="441.87" stroke="#222" stroke-width="0.8"/>
<line x1="87.66" y1="448.23" x2="90.66" y2="448.23" stroke="#222" stroke-width="0.8"/>
<line x1="96.24" y1="443.14" x2="96.24" y2="450.77" stroke="#222" stroke-width="0.8"/>
<line x1="94.74" y1="443.14" x2="97.74" y2="443.14" stroke="#222" stroke-width="0.8"/>
<line x1="94.74" y1="450.77" x2="97.74" y2="450.77" stroke="#222" stroke-width="0.8"/>
<line x1="103.32" y1="442.82" x2="103.32" y2="452.36" stroke="#222" stroke-width="0.8"/>
<line x1="101.82" y1="442.82" x2="104.82" y2="442.82" stroke="#222" stroke-width="0.8"/>
<line x1="101.82" y1="452.36" x2="104.82" y2="452.36" stroke="#222" stroke-width="0.8"/>
<line x1="106.86" y1="441.55" x2="106.86" y2="454.27" stroke="#222" stroke-width="0.8"/>
<line x1="105.36" y1="441.55" x2="108.36" y2="441.55" stroke="#222" stroke-width="0.8"/>
<line x1="105.36" y1="454.27" x2="108.36" y2="454.27" stroke="#222" stroke-width="0.8"/>
<line x1="110.4" y1="442.5" x2="110.4" y2="455.22" stroke="#222" stroke-width="0.8"/>
<line x1="108.9" y1="442.5" x2="111.9" y2="442.5" stroke="#222" stroke-width="0.8"/>
<line x1="108.9" y1="455.22" x2="111.9" y2="455.22" stroke="#222" stroke-width="0.8"/>
<line x1="117.48" y1="444.41" x2="117.48" y2="453.95" stroke="#222" stroke-width="0.8"/>
<line x1="115.98" y1="444.41" x2="118.98" y2="444.41" stroke="#222" stroke-width="0.8"/>
<line x1="115.98" y1="453.95" x2="118.98" y2="453.95" stroke="#222" stroke-width="0.8"/>
<line x1="121.02" y1="444.09" x2="121.02" y2="455.54" stroke="#222" stroke-width="0.8"/>
<line x1="119.52" y1="444.09" x2="122.52" y2="444.09" stroke="#222" stroke-width="0.8"/>
<line x1="119.52" y1="455.54" x2="122.52" y2="455.54" stroke="#222" stroke-width="0.8"/>
<line x1="124.56" y1="444.41" x2="124.56" y2="455.86" stroke="#222" stroke-width="0.8"/>
<line x1="123.06" y1="444.41" x2="126.06" y2="444.41" stroke="#222" stroke-width="0.8"/>
<line x1="123.06" y1="455.86" x2="126.06" y2="455.86" stroke="#222" stroke-width="0.8"/>
<line x1="131.64" y1="449.5" x2="131.64" y2="459.04" stroke="#222" stroke-width="0.8"/>
<line x1="130.14" y1="449.5" x2="133.14" y2="449.5" stroke="#222" stroke-width="0.8"/>
<line x1="130.14" y1="459.04" x2="133.14" y2="459.04" stroke="#222" stroke-width="0.8"/>
<polygon points="39.6,455.21 37.76,458.53 41.44,458.53" fill="#3bb54a"/>
<polygon points="46.68,452.34 44.84,455.67 48.52,455.67" fill="#3bb54a"/>
<polygon points="53.76,450.75 51.92,454.08 55.6,454.08" fill="#3bb54a"/>
<polygon points="60.84,446.62 59,449.95 62.68,449.95" fill="#3bb54a"/>
<polygon points="67.92,444.39 66.08,447.72 69.76,447.72" fill="#3bb54a"/>
<polygon points="75,442.8 73.16,446.13 76.84,446.13" fill="#3bb54a"/>
<polygon points="82.08,442.8 80.24,446.13 83.92,446.13" fill="#3bb54a"/>
<polygon points="89.16,443.12 87.32,446.45 91,446.45" fill="#3bb54a"/>
<polygon points="96.24,445.03 94.4,448.36 98.08,448.36" fill="#3bb54a"/>
<polygon points="103.32,445.67 101.48,448.99 105.16,448.99" fill="#3bb54a"/>
<polygon points="106.86,445.98 105.02,449.31 108.7,449.31" fill="#3bb54a"/>
<polygon points="110.4,446.94 108.56,450.26 112.24,450.26" fill="#3bb54a"/>
<polygon points="117.48,447.26 115.64,450.58 119.32,450.58" fill="#3bb54a"/>
<polygon points="121.02,447.89 119.18,451.22 122.86,451.22" fill="#3bb54a"/>
<polygon points="124.56,448.21 122.72,451.54 126.4,451.54" fill="#3bb54a"/>
<polygon points="131.64,452.34 129.8,455.67 133.48,455.67" fill="#3bb54a"/>
<line x1="39.6" y1="453" x2="39.6" y2="454.91" stroke="#222" stroke-width="0.8"/>
<line x1="38.1" y1="453" x2="41.1" y2="453" stroke="#222" stroke-width="0.8"/>
<line x1="38.1" y1="454.91" x2="41.1" y2="454.91" stroke="#222" stroke-width="0.8"/>
<line x1="46.68" y1="451.09" x2="46.68" y2="454.27" stroke="#222" stroke-width="0.8"/>
<line x1="45.18" y1="451.09" x2="48.18" y2="451.09" stroke="#222" stroke-width="0.8"/>
<line x1="45.18" y1="454.27" x2="48.18" y2="454.27" stroke="#222" stroke-width="0.8"/>
<line x1="53.76" y1="446.64" x2="53.76" y2="451.73" stroke="#222" stroke-width="0.8"/>
<line x1="52.26" y1="446.64" x2="55.26" y2="446.64" stroke="#222" stroke-width="0.8"/>
<line x1="52.26" y1="451.73" x2="55.26" y2="451.73" stroke="#222" stroke-width="0.8"/>
<line x1="60.84" y1="442.19" x2="60.84" y2="447.27" stroke="#222" stroke-width="0.8"/>
<line x1="59.34" y1="442.19" x2="62.34" y2="442.19" stroke="#222" stroke-width="0.8"/>
<line x1="59.34" y1="447.27" x2="62.34" y2="447.27" stroke="#222" stroke-width="0.8"/>
<line x1="67.92" y1="437.42" x2="67.92" y2="442.5" stroke="#222" stroke-width="0.8"/>
<line x1="66.42" y1="437.42" x2="69.42" y2="437.42" stroke="#222" stroke-width="0.8"/>
<line x1="66.42" y1="442.5" x2="69.42" y2="442.5" stroke="#222" stroke-width="0.8"/>
<line x1="75" y1="435.19" x2="75" y2="439.01" stroke="#222" stroke-width="0.8"/>
<line x1="73.5" y1="435.19" x2="76.5" y2="435.19" stroke="#222" stroke-width="0.8"/>
<line x1="73.5" y1="439.01" x2="76.5" y2="439.01" stroke="#222" stroke-width="0.8"/>
<line x1="82.08" y1="429.78" x2="82.08" y2="437.42" stroke="#222" stroke-width="0.8"/>
<line x1="80.58" y1="429.78" x2="83.58" y2="429.78" stroke="#222" stroke-width="0.8"/>
<line x1="80.58" y1="437.42" x2="83.58" y2="437.42" stroke="#222" stroke-width="0.8"/>
<line x1="89.16" y1="431.06" x2="89.16" y2="434.87" stroke="#222" stroke-width="0.8"/>
<line x1="87.66" y1="431.06" x2="90.66" y2="431.06" stroke="#222" stroke-width="0.8"/>
<line x1="87.66" y1="434.87" x2="90.66" y2="434.87" stroke="#222" stroke-width="0.8"/>
<line x1="96.24" y1="430.1" x2="96.24" y2="433.92" stroke="#222" stroke-width="0.8"/>
<line x1="94.74" y1="430.1" x2="97.74" y2="430.1" stroke="#222" stroke-width="0.8"/>
<line x1="94.74" y1="433.92" x2="97.74" y2="433.92" stroke="#222" stroke-width="0.8"/>
<line x1="103.32" y1="427.24" x2="103.32" y2="438.69" stroke="#222" stroke-width="0.8"/>
<line x1="101.82" y1="427.24" x2="104.82" y2="427.24" stroke="#222" stroke-width="0.8"/>
<line x1="101.82" y1="438.69" x2="104.82" y2="438.69" stroke="#222" stroke-width="0.8"/>
<line x1="106.86" y1="427.88" x2="106.86" y2="439.32" stroke="#222" stroke-width="0.8"/>
<line x1="105.36" y1="427.88" x2="108.36" y2="427.88" stroke="#222" stroke-width="0.8"/>
<line x1="105.36" y1="439.32" x2="108.36" y2="439.32" stroke="#222" stroke-width="0.8"/>
<line x1="110.4" y1="427.88" x2="110.4" y2="439.32" stroke="#222" stroke-width="0.8"/>
<line x1="108.9" y1="427.88" x2="111.9" y2="427.88" stroke="#222" stroke-width="0.8"/>
<line x1="108.9" y1="439.32" x2="111.9" y2="439.32" stroke="#222" stroke-width="0.8"/>
<line x1="117.48" y1="429.78" x2="117.48" y2="439.32" stroke="#222" stroke-width="0.8"/>
<line x1="115.98" y1="429.78" x2="118.98" y2="429.78" stroke="#222" stroke-width="0.8"/>
<line x1="115.98" y1="439.32" x2="118.98" y2="439.32" stroke="#222" stroke-width="0.8"/>
<line x1="121.02" y1="431.69" x2="121.02" y2="439.32" stroke="#222" stroke-width="0.8"/>
<line x1="119.52" y1="431.69" x2="122.52" y2="431.69" stroke="#222" stroke-width="0.8"/>
<line x1="119.52" y1="439.32" x2="122.52" y2="439.32" stroke="#222" stroke-width="0.8"/>
<line x1="124.56" y1="432.33" x2="124.56" y2="438.69" stroke="#222" stroke-width="0.8"/>
<line x1="123.06" y1="432.33" x2="126.06" y2="432.33" stroke="#222" stroke-width="0.8"/>
<line x1="123.06" y1="438.69" x2="126.06" y2="438.69" stroke="#222" stroke-width="0.8"/>
<line x1="131.64" y1="438.69" x2="131.64" y2="441.87" stroke="#222" stroke-width="0.8"/>
<line x1="130.14" y1="438.69" x2="133.14" y2="438.69" stroke="#222" stroke-width="0.8"/>
<line x1="130.14" y1="441.87" x2="133.14" y2="441.87" stroke="#222" stroke-width="0.8"/>
<rect x="37.85" y="452.2" width="3.5" height="3.5" fill="#114f8c"/>
<rect x="44.93" y="450.93" width="3.5" height="3.5" fill="#114f8c"/>
<rect x="52.01" y="447.43" width="3.5" height="3.5" fill="#114f8c"/>
<rect x="59.09" y="442.98" width="3.5" height="3.5" fill="#114f8c"/>
<rect x="66.17" y="438.21" width="3.5" height="3.5" fill="#114f8c"/>
<rect x="73.25" y="435.35" width="3.5" height="3.5" fill="#114f8c"/>
<rect x="80.33" y="431.85" width="3.5" height="3.5" fill="#114f8c"/>
<rect x="87.41" y="431.21" width="3.5" height="3.5" fill="#114f8c"/>
<rect x="94.49" y="430.26" width="3.5" height="3.5" fill="#114f8c"/>
<rect x="101.57" y="431.21" width="3.5" height="3.5" fill="#114f8c"/>
<rect x="105.11" y="431.85" width="3.5" height="3.5" fill="#114f8c"/>
<rect x="108.65" y="431.85" width="3.5" height="3.5" fill="#114f8c"/>
<rect x="115.73" y="432.8" width="3.5" height="3.5" fill="#114f8c"/>
<rect x="119.27" y="433.76" width="3.5" height="3.5" fill="#114f8c"/>
<rect x="122.81" y="433.76" width="3.5" height="3.5" fill="#114f8c"/>
<rect x="129.89" y="438.53" width="3.5" height="3.5" fill="#114f8c"/>
<line x1="39.6" y1="454.59" x2="39.6" y2="456.5" stroke="#222" stroke-width="0.8"/>
<line x1="38.1" y1="454.59" x2="41.1" y2="454.59" stroke="#222" stroke-width="0.8"/>
<line x1="38.1" y1="456.5" x2="41.1" y2="456.5" stroke="#222" stroke-width="0.8"/>
<line x1="46.68" y1="449.5" x2="46.68" y2="454.59" stroke="#222" stroke-width="0.8"/>
<line x1="45.18" y1="449.5" x2="48.18" y2="449.5" stroke="#222" stroke-width="0.8"/>
<line x1="45.18" y1="454.59" x2="48.18" y2="454.59" stroke="#222" stroke-width="0.8"/>
<line x1="53.76" y1="444.73" x2="53.76" y2="449.82" stroke="#222" stroke-width="0.8"/>
<line x1="52.26" y1="444.73" x2="55.26" y2="444.73" stroke="#222" stroke-width="0.8"/>
<line x1="52.26" y1="449.82" x2="55.26" y2="449.82" stroke="#222" stroke-width="0.8"/>
<line x1="60.84" y1="440.91" x2="60.84" y2="446" stroke="#222" stroke-width="0.8"/>
<line x1="59.34" y1="440.91" x2="62.34" y2="440.91" stroke="#222" stroke-width="0.8"/>
<line x1="59.34" y1="446" x2="62.34" y2="446" stroke="#222" stroke-width="0.8"/>
<line x1="67.92" y1="436.14" x2="67.92" y2="441.23" stroke="#222" stroke-width="0.8"/>
<line x1="66.42" y1="436.14" x2="69.42" y2="436.14" stroke="#222" stroke-width="0.8"/>
<line x1="66.42" y1="441.23" x2="69.42" y2="441.23" stroke="#222" stroke-width="0.8"/>
<line x1="75" y1="432.01" x2="75" y2="437.1" stroke="#222" stroke-width="0.8"/>
<line x1="73.5" y1="432.01" x2="76.5" y2="432.01" stroke="#222" stroke-width="0.8"/>
<line x1="73.5" y1="437.1" x2="76.5" y2="437.1" stroke="#222" stroke-width="0.8"/>
<line x1="82.08" y1="428.19" x2="82.08" y2="433.92" stroke="#222" stroke-width="0.8"/>
<line x1="80.58" y1="428.19" x2="83.58" y2="428.19" stroke="#222" stroke-width="0.8"/>
<line x1="80.58" y1="433.92" x2="83.58" y2="433.92" stroke="#222" stroke-width="0.8"/>
<line x1="89.16" y1="427.24" x2="89.16" y2="432.33" stroke="#222" stroke-width="0.8"/>
<line x1="87.66" y1="427.24" x2="90.66" y2="427.24" stroke="#222" stroke-width="0.8"/>
<line x1="87.66" y1="432.33" x2="90.66" y2="432.33" stroke="#222" stroke-width="0.8"/>
<line x1="96.24" y1="422.47" x2="96.24" y2="427.56" stroke="#222" stroke-width="0.8"/>
<line x1="94.74" y1="422.47" x2="97.74" y2="422.47" stroke="#222" stroke-width="0.8"/>
<line x1="94.74" y1="427.56" x2="97.74" y2="427.56" stroke="#222" stroke-width="0.8"/>
<line x1="103.32" y1="419.93" x2="103.32" y2="426.29" stroke="#222" stroke-width="0.8"/>
<line x1="101.82" y1="419.93" x2="104.82" y2="419.93" stroke="#222" stroke-width="0.8"/>
<line x1="101.82" y1="426.29" x2="104.82" y2="426.29" stroke="#222" stroke-width="0.8"/>
<line x1="106.86" y1="419.29" x2="106.86" y2="425.65" stroke="#222" stroke-width="0.8"/>
<line x1="105.36" y1="419.29" x2="108.36" y2="419.29" stroke="#222" stroke-width="0.8"/>
<line x1="105.36" y1="425.65" x2="108.36" y2="425.65" stroke="#222" stroke-width="0.8"/>
<line x1="110.4" y1="418.34" x2="110.4" y2="424.7" stroke="#222" stroke-width="0.8"/>
<line x1="108.9" y1="418.34" x2="111.9" y2="418.34" stroke="#222" stroke-width="0.8"/>
<line x1="108.9" y1="424.7" x2="111.9" y2="424.7" stroke="#222" stroke-width="0.8"/>
<line x1="117.48" y1="415.79" x2="117.48" y2="420.88" stroke="#222" stroke-width="0.8"/>
<line x1="115.98" y1="415.79" x2="118.98" y2="415.79" stroke="#222" stroke-width="0.8"/>
<line x1="115.98" y1="420.88" x2="118.98" y2="420.88" stroke="#222" stroke-width="0.8"/>
<line x1="121.02" y1="415.47" x2="121.02" y2="421.83" stroke="#222" stroke-width="0.8"/>
<line x1="119.52" y1="415.47" x2="122.52" y2="415.47" stroke="#222" stroke-width="0.8"/>
<line x1="119.52" y1="421.83" x2="122.52" y2="421.83" stroke="#222" stroke-width="0.8"/>
<line x1="124.56" y1="412.61" x2="124.56" y2="418.97" stroke="#222" stroke-width="0.8"/>
<line x1="123.06" y1="412.61" x2="126.06" y2="412.61" stroke="#222" stroke-width="0.8"/>
<line x1="123.06" y1="418.97" x2="126.06" y2="418.97" stroke="#222" stroke-width="0.8"/>
<line x1="131.64" y1="413.88" x2="131.64" y2="417.7" stroke="#222" stroke-width="0.8"/>
<line x1="130.14" y1="413.88" x2="133.14" y2="413.88" stroke="#222" stroke-width="0.8"/>
<line x1="130.14" y1="417.7" x2="133.14" y2="417.7" stroke="#222" stroke-width="0.8"/>
<circle cx="39.6" cy="455.54" r="1.85" fill="#cc1f36"/>
<circle cx="46.68" cy="452.04" r="1.85" fill="#cc1f36"/>
<circle cx="53.76" cy="447.27" r="1.85" fill="#cc1f36"/>
<circle cx="60.84" cy="443.46" r="1.85" fill="#cc1f36"/>
<circle cx="67.92" cy="438.69" r="1.85" fill="#cc1f36"/>
<circle cx="75" cy="434.55" r="1.85" fill="#cc1f36"/>
<circle cx="82.08" cy="431.06" r="1.85" fill="#cc1f36"/>
<circle cx="89.16" cy="429.78" r="1.85" fill="#cc1f36"/>
<circle cx="96.24" cy="425.01" r="1.85" fill="#cc1f36"/>
<circle cx="103.32" cy="423.11" r="1.85" fill="#cc1f36"/>
<circle cx="106.86" cy="422.47" r="1.85" fill="#cc1f36"/>
<circle cx="110.4" cy="421.52" r="1.85" fill="#cc1f36"/>
<circle cx="117.48" cy="418.34" r="1.85" fill="#cc1f36"/>
<circle cx="121.02" cy="418.65" r="1.85" fill="#cc1f36"/>
<circle cx="124.56" cy="415.79" r="1.85" fill="#cc1f36"/>
<circle cx="131.64" cy="415.79" r="1.85" fill="#cc1f36"/>
<polyline points="136.8,413.5 139.4,413.5 139.4,442 136.8,442" fill="none" stroke="#333" stroke-width="1"/>
<polyline points="147.9,414.5 150.5,414.5 150.5,457.2 147.9,457.2" fill="none" stroke="#333" stroke-width="1"/>
<text x="144.1" y="432.65" font-size="9" text-anchor="middle">*</text>
<text x="153.8" y="436" font-size="9" text-anchor="middle" textLength="11.6" lengthAdjust="spacingAndGlyphs" transform="rotate(90 153.8 436)">****</text>
<line x1="168" y1="420" x2="177.8" y2="420" stroke="#cc1f36" stroke-width="1"/>
<circle cx="172.8" cy="420" r="1.9" fill="#cc1f36"/>
<text x="180.8" y="422.85" font-size="8.5" textLength="22" lengthAdjust="spacingAndGlyphs">DMSO</text>
<line x1="168" y1="431" x2="177.8" y2="431" stroke="#114f8c" stroke-width="1"/>
<rect x="170.9" y="429.1" width="3.8" height="3.8" fill="#114f8c"/>
<text x="180.8" y="433.85" font-size="8.5" textLength="54.7" lengthAdjust="spacingAndGlyphs">Sonidegib 10µM</text>
<line x1="168" y1="441.6" x2="177.8" y2="441.6" stroke="#3bb54a" stroke-width="1" stroke-dasharray="2,1.5"/>
<polygon points="172.8,439.51 170.81,443.12 174.8,443.12" fill="#3bb54a"/>
<text x="180.8" y="444.45" font-size="8.5" textLength="54.7" lengthAdjust="spacingAndGlyphs">Sonidegib 20µM</text>
<text x="302.35" y="387.9" font-size="8.3" textLength="24.65" lengthAdjust="spacingAndGlyphs" transform="rotate(-90 302.35 387.9)">DMSO</text>
<text x="321.45" y="387.9" font-size="8.3" textLength="18.43" lengthAdjust="spacingAndGlyphs" transform="rotate(-90 321.45 387.9)">5 µM</text>
<text x="339.85" y="387.9" font-size="8.3" textLength="23" lengthAdjust="spacingAndGlyphs" transform="rotate(-90 339.85 387.9)">10 µM</text>
<text x="358.25" y="387.9" font-size="8.3" textLength="23" lengthAdjust="spacingAndGlyphs" transform="rotate(-90 358.25 387.9)">20 µM</text>
<rect x="287.5" y="390.5" width="83" height="45" fill="#efefef" stroke="#222" rx="0.8" stroke-width="1.3"/>
<linearGradient id="g41" gradientUnits="userSpaceOnUse" x1="0" y1="395" x2="0" y2="431"><stop offset="0" stop-color="#101010" stop-opacity="0"/><stop offset="0.04" stop-color="#101010" stop-opacity="0.7"/><stop offset="0.07" stop-color="#101010" stop-opacity="0.85"/><stop offset="0.11" stop-color="#101010" stop-opacity="0.55"/><stop offset="0.14" stop-color="#101010" stop-opacity="0.1"/><stop offset="0.21" stop-color="#101010" stop-opacity="0.12"/><stop offset="0.29" stop-color="#101010" stop-opacity="0.2"/><stop offset="0.38" stop-color="#101010" stop-opacity="0.3"/><stop offset="0.44" stop-color="#101010" stop-opacity="0.55"/><stop offset="0.49" stop-color="#101010" stop-opacity="0.85"/><stop offset="0.53" stop-color="#101010" stop-opacity="0.93"/><stop offset="0.58" stop-color="#101010" stop-opacity="0.7"/><stop offset="0.62" stop-color="#101010" stop-opacity="0.12"/><stop offset="0.71" stop-color="#101010" stop-opacity="0.06"/><stop offset="0.76" stop-color="#101010" stop-opacity="0.28"/><stop offset="0.79" stop-color="#101010" stop-opacity="0.36"/><stop offset="0.83" stop-color="#101010" stop-opacity="0.18"/><stop offset="0.89" stop-color="#101010" stop-opacity="0.28"/><stop offset="0.94" stop-color="#101010" stop-opacity="0.08"/><stop offset="1" stop-color="#101010" stop-opacity="0"/></linearGradient>
<rect x="290.1" y="395" width="16.6" height="36" fill="url(#g41)" filter="url(#b0)"/>
<path d="M291.2,400.5 Q291.4,410 294.9,413 M305.6,400.5 Q305.4,410 301.9,413" fill="none" stroke="#222" stroke-width="1.8" opacity="0.12" filter="url(#b1)"/>
<linearGradient id="g42" gradientUnits="userSpaceOnUse" x1="0" y1="395" x2="0" y2="431"><stop offset="0" stop-color="#101010" stop-opacity="0"/><stop offset="0.04" stop-color="#101010" stop-opacity="0.7"/><stop offset="0.07" stop-color="#101010" stop-opacity="0.85"/><stop offset="0.11" stop-color="#101010" stop-opacity="0.55"/><stop offset="0.14" stop-color="#101010" stop-opacity="0.1"/><stop offset="0.21" stop-color="#101010" stop-opacity="0.12"/><stop offset="0.29" stop-color="#101010" stop-opacity="0.2"/><stop offset="0.38" stop-color="#101010" stop-opacity="0.3"/><stop offset="0.44" stop-color="#101010" stop-opacity="0.55"/><stop offset="0.49" stop-color="#101010" stop-opacity="0.85"/><stop offset="0.53" stop-color="#101010" stop-opacity="0.93"/><stop offset="0.58" stop-color="#101010" stop-opacity="0.7"/><stop offset="0.62" stop-color="#101010" stop-opacity="0.12"/><stop offset="0.71" stop-color="#101010" stop-opacity="0.06"/><stop offset="0.76" stop-color="#101010" stop-opacity="0.28"/><stop offset="0.79" stop-color="#101010" stop-opacity="0.36"/><stop offset="0.83" stop-color="#101010" stop-opacity="0.18"/><stop offset="0.89" stop-color="#101010" stop-opacity="0.28"/><stop offset="0.94" stop-color="#101010" stop-opacity="0.08"/><stop offset="1" stop-color="#101010" stop-opacity="0"/></linearGradient>
<rect x="310.6" y="395" width="16.2" height="36" fill="url(#g42)" filter="url(#b0)"/>
<path d="M311.7,400.5 Q311.9,410 315.4,413 M325.7,400.5 Q325.5,410 322,413" fill="none" stroke="#222" stroke-width="1.8" opacity="0.12" filter="url(#b1)"/>
<linearGradient id="g43" gradientUnits="userSpaceOnUse" x1="0" y1="395" x2="0" y2="431"><stop offset="0" stop-color="#101010" stop-opacity="0"/><stop offset="0.04" stop-color="#101010" stop-opacity="0.7"/><stop offset="0.07" stop-color="#101010" stop-opacity="0.85"/><stop offset="0.11" stop-color="#101010" stop-opacity="0.55"/><stop offset="0.14" stop-color="#101010" stop-opacity="0.1"/><stop offset="0.21" stop-color="#101010" stop-opacity="0.12"/><stop offset="0.29" stop-color="#101010" stop-opacity="0.2"/><stop offset="0.38" stop-color="#101010" stop-opacity="0.3"/><stop offset="0.44" stop-color="#101010" stop-opacity="0.55"/><stop offset="0.49" stop-color="#101010" stop-opacity="0.85"/><stop offset="0.53" stop-color="#101010" stop-opacity="0.93"/><stop offset="0.58" stop-color="#101010" stop-opacity="0.7"/><stop offset="0.62" stop-color="#101010" stop-opacity="0.12"/><stop offset="0.71" stop-color="#101010" stop-opacity="0.06"/><stop offset="0.76" stop-color="#101010" stop-opacity="0.28"/><stop offset="0.79" stop-color="#101010" stop-opacity="0.36"/><stop offset="0.83" stop-color="#101010" stop-opacity="0.18"/><stop offset="0.89" stop-color="#101010" stop-opacity="0.28"/><stop offset="0.94" stop-color="#101010" stop-opacity="0.08"/><stop offset="1" stop-color="#101010" stop-opacity="0"/></linearGradient>
<rect x="330.2" y="395" width="15.8" height="36" fill="url(#g43)" filter="url(#b0)"/>
<path d="M331.3,400.5 Q331.5,410 335,413 M344.9,400.5 Q344.7,410 341.2,413" fill="none" stroke="#222" stroke-width="1.8" opacity="0.12" filter="url(#b1)"/>
<linearGradient id="g44" gradientUnits="userSpaceOnUse" x1="0" y1="395" x2="0" y2="431"><stop offset="0" stop-color="#101010" stop-opacity="0"/><stop offset="0.04" stop-color="#101010" stop-opacity="0.7"/><stop offset="0.07" stop-color="#101010" stop-opacity="0.85"/><stop offset="0.11" stop-color="#101010" stop-opacity="0.55"/><stop offset="0.14" stop-color="#101010" stop-opacity="0.1"/><stop offset="0.21" stop-color="#101010" stop-opacity="0.12"/><stop offset="0.29" stop-color="#101010" stop-opacity="0.2"/><stop offset="0.38" stop-color="#101010" stop-opacity="0.3"/><stop offset="0.44" stop-color="#101010" stop-opacity="0.55"/><stop offset="0.49" stop-color="#101010" stop-opacity="0.85"/><stop offset="0.53" stop-color="#101010" stop-opacity="0.93"/><stop offset="0.58" stop-color="#101010" stop-opacity="0.7"/><stop offset="0.62" stop-color="#101010" stop-opacity="0.12"/><stop offset="0.71" stop-color="#101010" stop-opacity="0.06"/><stop offset="0.76" stop-color="#101010" stop-opacity="0.28"/><stop offset="0.79" stop-color="#101010" stop-opacity="0.36"/><stop offset="0.83" stop-color="#101010" stop-opacity="0.18"/><stop offset="0.89" stop-color="#101010" stop-opacity="0.28"/><stop offset="0.94" stop-color="#101010" stop-opacity="0.08"/><stop offset="1" stop-color="#101010" stop-opacity="0"/></linearGradient>
<rect x="348.6" y="395" width="15" height="36" fill="url(#g44)" filter="url(#b0)"/>
<path d="M349.7,400.5 Q349.9,410 353.4,413 M362.5,400.5 Q362.3,410 358.8,413" fill="none" stroke="#222" stroke-width="1.8" opacity="0.12" filter="url(#b1)"/>
<rect x="287.5" y="439.5" width="83" height="16" fill="#f3f3f3" stroke="#222" rx="0.8" stroke-width="1.3"/>
<linearGradient id="g45" gradientUnits="userSpaceOnUse" x1="0" y1="445.5" x2="0" y2="452.3"><stop offset="0" stop-color="#101010" stop-opacity="0"/><stop offset="0.29" stop-color="#101010" stop-opacity="0.7"/><stop offset="0.53" stop-color="#101010" stop-opacity="0.88"/><stop offset="0.75" stop-color="#101010" stop-opacity="0.72"/><stop offset="1" stop-color="#101010" stop-opacity="0"/></linearGradient>
<rect x="291.9" y="445.5" width="17.1" height="6.8" fill="url(#g45)" filter="url(#b0)"/>
<linearGradient id="g46" gradientUnits="userSpaceOnUse" x1="0" y1="445.1" x2="0" y2="451.9"><stop offset="0" stop-color="#101010" stop-opacity="0"/><stop offset="0.29" stop-color="#101010" stop-opacity="0.7"/><stop offset="0.53" stop-color="#101010" stop-opacity="0.88"/><stop offset="0.75" stop-color="#101010" stop-opacity="0.72"/><stop offset="1" stop-color="#101010" stop-opacity="0"/></linearGradient>
<rect x="310.9" y="445.1" width="16.9" height="6.8" fill="url(#g46)" filter="url(#b0)"/>
<linearGradient id="g47" gradientUnits="userSpaceOnUse" x1="0" y1="444.7" x2="0" y2="451.5"><stop offset="0" stop-color="#101010" stop-opacity="0"/><stop offset="0.29" stop-color="#101010" stop-opacity="0.7"/><stop offset="0.53" stop-color="#101010" stop-opacity="0.88"/><stop offset="0.75" stop-color="#101010" stop-opacity="0.72"/><stop offset="1" stop-color="#101010" stop-opacity="0"/></linearGradient>
<rect x="329.5" y="444.7" width="17.3" height="6.8" fill="url(#g47)" filter="url(#b0)"/>
<linearGradient id="g48" gradientUnits="userSpaceOnUse" x1="0" y1="444.3" x2="0" y2="451.1"><stop offset="0" stop-color="#101010" stop-opacity="0"/><stop offset="0.29" stop-color="#101010" stop-opacity="0.7"/><stop offset="0.53" stop-color="#101010" stop-opacity="0.88"/><stop offset="0.75" stop-color="#101010" stop-opacity="0.72"/><stop offset="1" stop-color="#101010" stop-opacity="0"/></linearGradient>
<rect x="348.7" y="444.3" width="18.1" height="6.8" fill="url(#g48)" filter="url(#b0)"/>
<linearGradient id="gg1" x1="0" y1="0" x2="1" y2="0"><stop offset="0" stop-color="#cfcfcf"/><stop offset="0.5" stop-color="#dadada"/><stop offset="1" stop-color="#e0e0e0"/></linearGradient>
<rect x="286.5" y="461.5" width="84" height="16" fill="url(#gg1)" stroke="#222" rx="0.8" stroke-width="1.3"/>
<linearGradient id="g49" gradientUnits="userSpaceOnUse" x1="0" y1="465.8" x2="0" y2="471.2"><stop offset="0" stop-color="#101010" stop-opacity="0"/><stop offset="0.31" stop-color="#101010" stop-opacity="0.55"/><stop offset="0.52" stop-color="#101010" stop-opacity="0.68"/><stop offset="0.72" stop-color="#101010" stop-opacity="0.55"/><stop offset="1" stop-color="#101010" stop-opacity="0"/></linearGradient>
<rect x="291.2" y="465.8" width="16.1" height="5.4" fill="url(#g49)" filter="url(#b0)"/>
<linearGradient id="g50" gradientUnits="userSpaceOnUse" x1="0" y1="466.5" x2="0" y2="471.9"><stop offset="0" stop-color="#101010" stop-opacity="0"/><stop offset="0.31" stop-color="#101010" stop-opacity="0.55"/><stop offset="0.52" stop-color="#101010" stop-opacity="0.68"/><stop offset="0.72" stop-color="#101010" stop-opacity="0.55"/><stop offset="1" stop-color="#101010" stop-opacity="0"/></linearGradient>
<rect x="310.7" y="466.5" width="16.1" height="5.4" fill="url(#g50)" filter="url(#b0)"/>
<linearGradient id="g51" gradientUnits="userSpaceOnUse" x1="0" y1="466.5" x2="0" y2="471.9"><stop offset="0" stop-color="#101010" stop-opacity="0"/><stop offset="0.31" stop-color="#101010" stop-opacity="0.55"/><stop offset="0.52" stop-color="#101010" stop-opacity="0.68"/><stop offset="0.72" stop-color="#101010" stop-opacity="0.55"/><stop offset="1" stop-color="#101010" stop-opacity="0"/></linearGradient>
<rect x="329.7" y="466.5" width="16.1" height="5.4" fill="url(#g51)" filter="url(#b0)"/>
<linearGradient id="g52" gradientUnits="userSpaceOnUse" x1="0" y1="466.5" x2="0" y2="471.9"><stop offset="0" stop-color="#101010" stop-opacity="0"/><stop offset="0.31" stop-color="#101010" stop-opacity="0.55"/><stop offset="0.52" stop-color="#101010" stop-opacity="0.68"/><stop offset="0.72" stop-color="#101010" stop-opacity="0.55"/><stop offset="1" stop-color="#101010" stop-opacity="0"/></linearGradient>
<rect x="348.7" y="466.5" width="17.1" height="5.4" fill="url(#g52)" filter="url(#b0)"/>
<rect x="286.5" y="480.5" width="84" height="16" fill="#f1f1f1" stroke="#222" rx="0.8" stroke-width="1.3"/>
<linearGradient id="g53" gradientUnits="userSpaceOnUse" x1="0" y1="485.3" x2="0" y2="492.2"><stop offset="0" stop-color="#101010" stop-opacity="0"/><stop offset="0.29" stop-color="#101010" stop-opacity="0.64"/><stop offset="0.52" stop-color="#101010" stop-opacity="0.92"/><stop offset="0.74" stop-color="#101010" stop-opacity="0.66"/><stop offset="1" stop-color="#101010" stop-opacity="0"/></linearGradient>
<rect x="290.2" y="485.3" width="17.6" height="6.9" fill="url(#g53)" filter="url(#b0)"/>
<linearGradient id="g54" gradientUnits="userSpaceOnUse" x1="0" y1="485.3" x2="0" y2="492.2"><stop offset="0" stop-color="#101010" stop-opacity="0"/><stop offset="0.29" stop-color="#101010" stop-opacity="0.59"/><stop offset="0.52" stop-color="#101010" stop-opacity="0.85"/><stop offset="0.74" stop-color="#101010" stop-opacity="0.61"/><stop offset="1" stop-color="#101010" stop-opacity="0"/></linearGradient>
<rect x="309.7" y="485.3" width="17.6" height="6.9" fill="url(#g54)" filter="url(#b0)"/>
<linearGradient id="g55" gradientUnits="userSpaceOnUse" x1="0" y1="485.3" x2="0" y2="492.2"><stop offset="0" stop-color="#101010" stop-opacity="0"/><stop offset="0.29" stop-color="#101010" stop-opacity="0.62"/><stop offset="0.52" stop-color="#101010" stop-opacity="0.88"/><stop offset="0.74" stop-color="#101010" stop-opacity="0.63"/><stop offset="1" stop-color="#101010" stop-opacity="0"/></linearGradient>
<rect x="329.2" y="485.3" width="17.6" height="6.9" fill="url(#g55)" filter="url(#b0)"/>
<linearGradient id="g56" gradientUnits="userSpaceOnUse" x1="0" y1="485.3" x2="0" y2="492.2"><stop offset="0" stop-color="#101010" stop-opacity="0"/><stop offset="0.29" stop-color="#101010" stop-opacity="0.49"/><stop offset="0.52" stop-color="#101010" stop-opacity="0.7"/><stop offset="0.74" stop-color="#101010" stop-opacity="0.5"/><stop offset="1" stop-color="#101010" stop-opacity="0"/></linearGradient>
<rect x="348.7" y="485.3" width="18.1" height="6.9" fill="url(#g56)" filter="url(#b0)"/>
<rect x="286.5" y="500.5" width="84" height="15" fill="#f3f3f3" stroke="#222" rx="0.8" stroke-width="1.3"/>
<linearGradient id="g57" gradientUnits="userSpaceOnUse" x1="0" y1="503" x2="0" y2="509.5"><stop offset="0" stop-color="#101010" stop-opacity="0"/><stop offset="0.29" stop-color="#101010" stop-opacity="0.68"/><stop offset="0.52" stop-color="#101010" stop-opacity="0.95"/><stop offset="0.74" stop-color="#101010" stop-opacity="0.68"/><stop offset="1" stop-color="#101010" stop-opacity="0"/></linearGradient>
<rect x="290.2" y="503" width="16.1" height="6.5" fill="url(#g57)" filter="url(#b0)"/>
<linearGradient id="g58" gradientUnits="userSpaceOnUse" x1="0" y1="503" x2="0" y2="509.5"><stop offset="0" stop-color="#101010" stop-opacity="0"/><stop offset="0.29" stop-color="#101010" stop-opacity="0.58"/><stop offset="0.52" stop-color="#101010" stop-opacity="0.8"/><stop offset="0.74" stop-color="#101010" stop-opacity="0.58"/><stop offset="1" stop-color="#101010" stop-opacity="0"/></linearGradient>
<rect x="309.7" y="503" width="16.1" height="6.5" fill="url(#g58)" filter="url(#b0)"/>
<linearGradient id="g59" gradientUnits="userSpaceOnUse" x1="0" y1="503" x2="0" y2="509.5"><stop offset="0" stop-color="#101010" stop-opacity="0"/><stop offset="0.29" stop-color="#101010" stop-opacity="0.59"/><stop offset="0.52" stop-color="#101010" stop-opacity="0.82"/><stop offset="0.74" stop-color="#101010" stop-opacity="0.59"/><stop offset="1" stop-color="#101010" stop-opacity="0"/></linearGradient>
<rect x="329.2" y="503" width="16.1" height="6.5" fill="url(#g59)" filter="url(#b0)"/>
<linearGradient id="g60" gradientUnits="userSpaceOnUse" x1="0" y1="502.6" x2="0" y2="509.1"><stop offset="0" stop-color="#101010" stop-opacity="0"/><stop offset="0.29" stop-color="#101010" stop-opacity="0.7"/><stop offset="0.52" stop-color="#101010" stop-opacity="0.97"/><stop offset="0.74" stop-color="#101010" stop-opacity="0.7"/><stop offset="1" stop-color="#101010" stop-opacity="0"/></linearGradient>
<rect x="348.7" y="502.6" width="16.6" height="6.5" fill="url(#g60)" filter="url(#b0)"/>
<text x="282.8" y="404.7" font-size="8.3" text-anchor="end" textLength="22.35" lengthAdjust="spacingAndGlyphs">GLI3A</text>
<text x="282.8" y="430.4" font-size="8.3" text-anchor="end" textLength="22.79" lengthAdjust="spacingAndGlyphs">GLI3R</text>
<text x="282.8" y="450.7" font-size="8.3" text-anchor="end" textLength="24.98" lengthAdjust="spacingAndGlyphs">HSP90</text>
<text x="282.8" y="474.4" font-size="8.3" text-anchor="end" textLength="17.09" lengthAdjust="spacingAndGlyphs">GLI1</text>
<text x="282.8" y="493.8" font-size="8.3" text-anchor="end" textLength="15.34" lengthAdjust="spacingAndGlyphs">Bcl2</text>
<text x="282.8" y="510.5" font-size="8.3" text-anchor="end" textLength="24.98" lengthAdjust="spacingAndGlyphs">HSP90</text>
<line x1="442.8" y1="399.3" x2="442.8" y2="469.1" stroke="#2b2b2b" stroke-width="1"/>
<line x1="442.3" y1="468.6" x2="508.1" y2="468.6" stroke="#2b2b2b" stroke-width="1"/>
<line x1="440" y1="468.6" x2="442.8" y2="468.6" stroke="#2b2b2b" stroke-width="1"/>
<text class="h" x="439.2" y="471.6" font-size="8.5" text-anchor="end" textLength="11.23" lengthAdjust="spacingAndGlyphs">0.0</text>
<line x1="440" y1="446.55" x2="442.8" y2="446.55" stroke="#2b2b2b" stroke-width="1"/>
<text class="h" x="439.2" y="449.55" font-size="8.5" text-anchor="end" textLength="11.23" lengthAdjust="spacingAndGlyphs">0.5</text>
<line x1="440" y1="424.5" x2="442.8" y2="424.5" stroke="#2b2b2b" stroke-width="1"/>
<text class="h" x="439.2" y="427.5" font-size="8.5" text-anchor="end" textLength="11.23" lengthAdjust="spacingAndGlyphs">1.0</text>
<line x1="440" y1="402.45" x2="442.8" y2="402.45" stroke="#2b2b2b" stroke-width="1"/>
<text class="h" x="439.2" y="405.45" font-size="8.5" text-anchor="end" textLength="11.23" lengthAdjust="spacingAndGlyphs">1.5</text>
<rect x="448" y="409.95" width="10.4" height="58.65" fill="#cc1f36"/>
<rect x="463.4" y="407.74" width="9.9" height="60.86" fill="#114f8c"/>
<rect x="477.8" y="402.01" width="10.5" height="66.59" fill="#3bb54a"/>
<rect x="493.1" y="421.85" width="10.2" height="46.75" fill="#5b2a7a"/>
<line x1="452.7" y1="468.6" x2="452.7" y2="471.2" stroke="#2b2b2b" stroke-width="1"/>
<line x1="468.1" y1="468.6" x2="468.1" y2="471.2" stroke="#2b2b2b" stroke-width="1"/>
<line x1="483.5" y1="468.6" x2="483.5" y2="471.2" stroke="#2b2b2b" stroke-width="1"/>
<line x1="498.5" y1="468.6" x2="498.5" y2="471.2" stroke="#2b2b2b" stroke-width="1"/>
<text x="457.6" y="477.1" font-size="8.3" text-anchor="end" textLength="24.65" lengthAdjust="spacingAndGlyphs" transform="rotate(-45 457.6 477.1)">DMSO</text>
<text x="473" y="477.1" font-size="8.3" text-anchor="end" textLength="54.99" lengthAdjust="spacingAndGlyphs" transform="rotate(-45 473 477.1)">Sonidegib 5µM</text>
<text x="488.4" y="477.1" font-size="8.3" text-anchor="end" textLength="59.56" lengthAdjust="spacingAndGlyphs" transform="rotate(-45 488.4 477.1)">Sonidegib 10µM</text>
<text x="503.4" y="477.1" font-size="8.3" text-anchor="end" textLength="59.56" lengthAdjust="spacingAndGlyphs" transform="rotate(-45 503.4 477.1)">Sonidegib 20µM</text>
<text transform="translate(412.2 469.6) rotate(-90)" font-size="8.9"><tspan font-weight="bold" fill="#111" stroke="#111" stroke-width="0.25" textLength="43.7" lengthAdjust="spacingAndGlyphs">GLI3A/GLI3R</tspan><tspan textLength="28.3" lengthAdjust="spacingAndGlyphs"> relative</tspan></text>
<text x="420.6" y="464.1" font-size="8.4" textLength="60.4" lengthAdjust="spacingAndGlyphs" transform="rotate(-90 420.6 464.1)">protein expression</text>
<rect x="0.5" y="0.5" width="519" height="529" fill="none" stroke="#111" stroke-width="1"/>
</svg></body></html>
